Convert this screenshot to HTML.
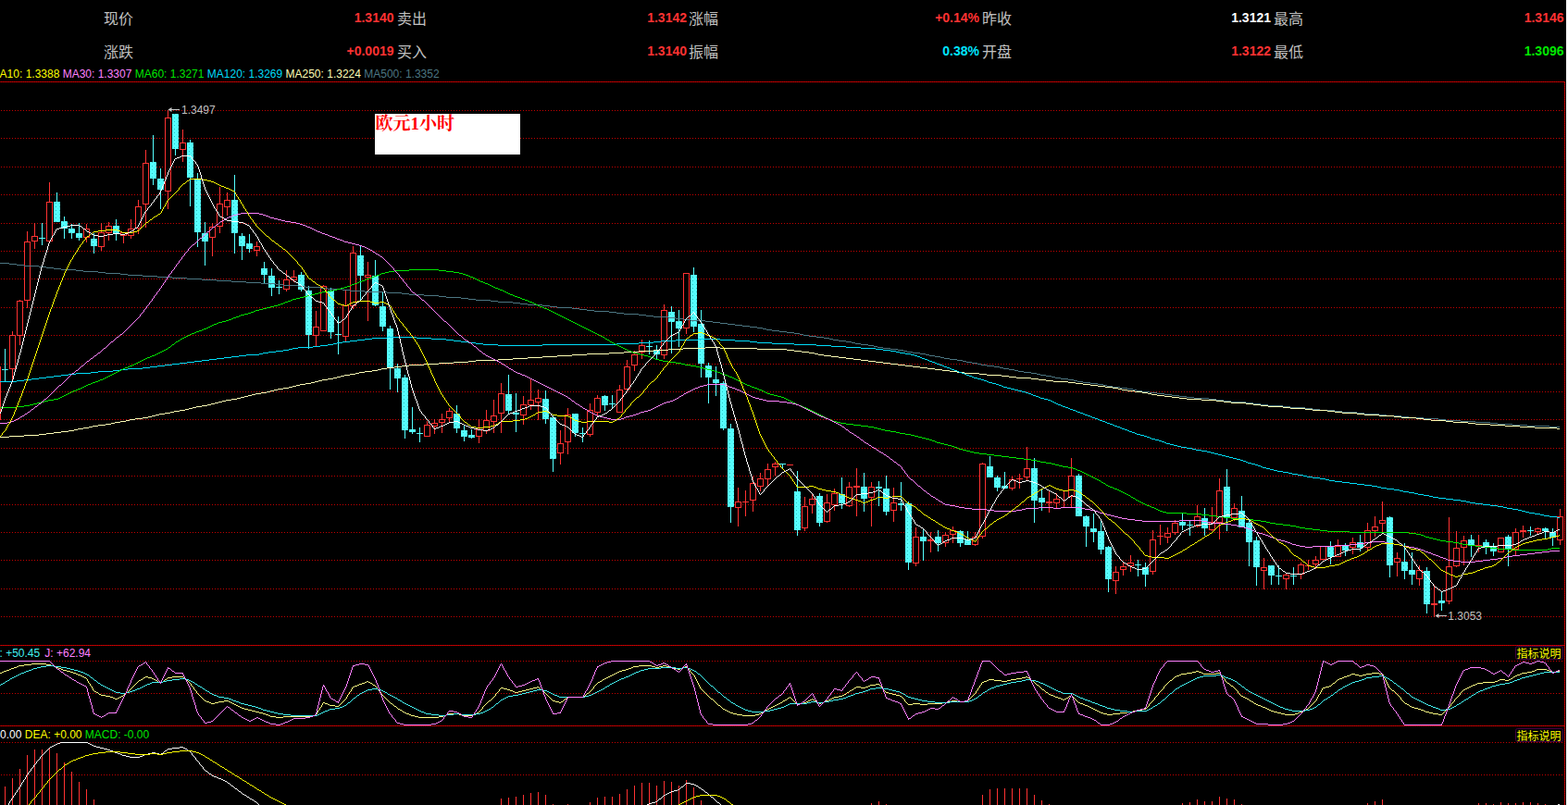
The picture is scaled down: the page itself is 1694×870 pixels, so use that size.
<!DOCTYPE html>
<html lang="zh"><head><meta charset="utf-8"><title>EURUSD 1H candlestick chart</title>
<style>html,body{margin:0;padding:0;background:#000}body{width:1694px;height:870px;font-family:"Liberation Sans",sans-serif}svg{display:block}text{font-family:"Liberation Sans",sans-serif}</style>
</head><body>
<svg width="1694" height="870" viewBox="0 0 1694 870">
<rect width="1694" height="870" fill="#000"/>
<g shape-rendering="crispEdges" fill="none" stroke-width="1">
<path d="M1 119.5H1690" stroke="#c40000" stroke-dasharray="1 2"/>
<path d="M1 149.5H1690" stroke="#c40000" stroke-dasharray="1 2"/>
<path d="M1 180.5H1690" stroke="#c40000" stroke-dasharray="1 2"/>
<path d="M1 210.5H1690" stroke="#c40000" stroke-dasharray="1 2"/>
<path d="M1 241.5H1690" stroke="#c40000" stroke-dasharray="1 2"/>
<path d="M1 271.5H1690" stroke="#c40000" stroke-dasharray="1 2"/>
<path d="M1 301.5H1690" stroke="#c40000" stroke-dasharray="1 2"/>
<path d="M1 332.5H1690" stroke="#c40000" stroke-dasharray="1 2"/>
<path d="M1 362.5H1690" stroke="#c40000" stroke-dasharray="1 2"/>
<path d="M1 393.5H1690" stroke="#c40000" stroke-dasharray="1 2"/>
<path d="M1 423.5H1690" stroke="#c40000" stroke-dasharray="1 2"/>
<path d="M1 453.5H1690" stroke="#c40000" stroke-dasharray="1 2"/>
<path d="M1 484.5H1690" stroke="#c40000" stroke-dasharray="1 2"/>
<path d="M1 514.5H1690" stroke="#c40000" stroke-dasharray="1 2"/>
<path d="M1 545.5H1690" stroke="#c40000" stroke-dasharray="1 2"/>
<path d="M1 575.5H1690" stroke="#c40000" stroke-dasharray="1 2"/>
<path d="M1 605.5H1690" stroke="#c40000" stroke-dasharray="1 2"/>
<path d="M1 636.5H1690" stroke="#c40000" stroke-dasharray="1 2"/>
<path d="M1 666.5H1690" stroke="#c40000" stroke-dasharray="1 2"/>
<path d="M1 714.5H1690" stroke="#c40000" stroke-dasharray="1 2"/>
<path d="M1 749.5H1690" stroke="#c40000" stroke-dasharray="1 2"/>
<path d="M1 802.5H1690" stroke="#c40000" stroke-dasharray="1 2"/>
<path d="M1 837.5H1690" stroke="#c40000" stroke-dasharray="1 2"/>
<path d="M0 88.5H1691M0 697.5H1691M0 784.5H1691M1690.5 88V870" stroke="#9c0000"/>
<path d="M1 88.5H1691M1 697.5H1691M1 784.5H1691M1690.5 89V870" stroke="#d60000" stroke-dasharray="1 1"/>
</g>
<rect x="405" y="123" width="157" height="44" fill="#fff"/>
<defs><pattern id="dz" width="4" height="4" patternUnits="userSpaceOnUse"><rect width="4" height="4" fill="#56ffff"/><rect x="0" y="3" width="1" height="1" fill="#2cc0c0"/><rect x="2" y="1" width="1" height="1" fill="#48f4f4"/></pattern></defs>
<g shape-rendering="crispEdges" stroke-width="1">
<path d="M0.5 396V454" stroke="#ff3232" fill="none"/>
<path d="M13.5 358V362M13.5 399V412M21.5 324V325M21.5 363V373M29.5 250V261M29.5 325V333M37.5 241V255M37.5 261V269M53.5 197V218M93.5 242V247M93.5 257V262M109.5 241V251M109.5 267V271M117.5 240V244M117.5 252V260M133.5 255V263M141.5 237V247M141.5 255V258M149.5 216V223M149.5 247V253M157.5 162V176M157.5 221V246M181.5 119V127M181.5 207V226M197.5 140V154M197.5 162V175M229.5 241V245M229.5 257V277M237.5 202V220M237.5 245V252M245.5 208V216M245.5 224V233M277.5 261V266M277.5 271V277M309.5 292V302M309.5 313V315M317.5 292V299M317.5 303V305M341.5 336V353M341.5 363V374M349.5 308V309M373.5 314V330M373.5 364V370M381.5 266V273M381.5 331V334M397.5 283V297M397.5 300V347M461.5 455V459M469.5 453V457M469.5 461V469M477.5 447V453M477.5 457V468M485.5 441V444M485.5 452V457M517.5 453V464M517.5 472V479M525.5 443V454M525.5 466V469M533.5 432V449M533.5 456V468M541.5 414V425M541.5 447V468M565.5 428V437M565.5 449V459M573.5 410V432M573.5 438V443M581.5 421V430M581.5 435V454M605.5 465V479M605.5 490V502M613.5 441V448M613.5 478V491M637.5 436V443M637.5 470V472M645.5 427V430M645.5 446V451M669.5 416V421M677.5 389V396M677.5 421V424M685.5 379V383M685.5 395V401M693.5 367V373M693.5 381V388M717.5 329V335M717.5 384V388M741.5 355V361M797.5 527V542M797.5 549V569M805.5 530V542M805.5 543V558M813.5 515V522M813.5 541V553M821.5 511V517M821.5 526V531M829.5 501V507M829.5 518V526M837.5 499V501M837.5 505V514M869.5 537V547M869.5 571V574M877.5 534V539M877.5 546V555M893.5 534V543M893.5 564V565M901.5 528V533M901.5 546V552M917.5 521V526M917.5 547V548M925.5 506V525M925.5 527V558M941.5 521V526M941.5 538V569M965.5 527V543M965.5 552V564M989.5 570V580M989.5 609V612M1005.5 575V583M1005.5 585V597M1021.5 575V578M1021.5 587V591M1029.5 569V573M1029.5 578V587M1053.5 575V580M1053.5 589V590M1061.5 500V501M1061.5 580V582M1093.5 515V518M1093.5 528V530M1101.5 512V517M1101.5 518V528M1109.5 483V506M1109.5 516V520M1133.5 531V542M1133.5 544V554M1141.5 533V539M1141.5 544V549M1149.5 531V548M1157.5 495V514M1157.5 537V548M1205.5 612V618M1205.5 628V642M1213.5 608V612M1213.5 616V622M1221.5 600V608M1221.5 612V618M1245.5 573V583M1245.5 618V621M1253.5 567V579M1253.5 580V589M1261.5 570V576M1261.5 581V587M1269.5 562V565M1269.5 576V578M1293.5 546V558M1293.5 569V570M1309.5 548V564M1309.5 573V574M1317.5 517V530M1317.5 565V583M1333.5 544V549M1333.5 560V563M1365.5 603V613M1365.5 617V637M1389.5 619V621M1389.5 626V637M1405.5 608V610M1405.5 621V626M1413.5 605V611M1413.5 612V616M1421.5 601V605M1421.5 610V615M1445.5 583V590M1461.5 581V586M1461.5 592V599M1477.5 565V573M1477.5 592V595M1485.5 558V569M1485.5 574V580M1493.5 542V562M1493.5 566V576M1509.5 597V603M1509.5 608V623M1533.5 611V616M1533.5 626V633M1549.5 632V652M1549.5 654V667M1565.5 559V612M1565.5 650V653M1573.5 574V592M1573.5 612V613M1581.5 579V584M1581.5 592V611M1597.5 578V589M1597.5 590V597M1637.5 571V575M1637.5 594V601M1645.5 568V573M1645.5 575V581M1661.5 570V571M1661.5 575V578M1685.5 550V558M1685.5 584V589" stroke="#ff3232" fill="none"/>
<path d="M10.5 362.5h6v36h-6zM18.5 325.5h6v37h-6zM26.5 261.5h6v63h-6zM34.5 255.5h6v5h-6zM50.5 218.5h6v42h-6zM90.5 247.5h6v9h-6zM106.5 251.5h6v15h-6zM114.5 244.5h6v7h-6zM130.5 251.5h6v3h-6zM138.5 247.5h6v7h-6zM146.5 223.5h6v23h-6zM154.5 176.5h6v44h-6zM178.5 127.5h6v79h-6zM194.5 154.5h6v7h-6zM226.5 245.5h6v11h-6zM234.5 220.5h6v24h-6zM242.5 216.5h6v7h-6zM274.5 266.5h6v4h-6zM306.5 302.5h6v10h-6zM314.5 299.5h6v3h-6zM338.5 353.5h6v9h-6zM346.5 309.5h6v48h-6zM370.5 330.5h6v33h-6zM378.5 273.5h6v57h-6zM394.5 297.5h6v2h-6zM458.5 459.5h6v12h-6zM466.5 457.5h6v3h-6zM474.5 453.5h6v3h-6zM482.5 444.5h6v7h-6zM514.5 464.5h6v7h-6zM522.5 454.5h6v11h-6zM530.5 449.5h6v6h-6zM538.5 425.5h6v21h-6zM562.5 437.5h6v11h-6zM570.5 432.5h6v5h-6zM578.5 430.5h6v4h-6zM602.5 479.5h6v10h-6zM610.5 448.5h6v29h-6zM634.5 443.5h6v26h-6zM642.5 430.5h6v15h-6zM666.5 421.5h6v24h-6zM674.5 396.5h6v24h-6zM682.5 383.5h6v11h-6zM690.5 373.5h6v7h-6zM714.5 335.5h6v48h-6zM738.5 295.5h6v59h-6zM794.5 542.5h6v6h-6zM802 542.5h7M810.5 522.5h6v18h-6zM818.5 517.5h6v8h-6zM826.5 507.5h6v10h-6zM834.5 501.5h6v3h-6zM850 502.5h7M866.5 547.5h6v23h-6zM874.5 539.5h6v6h-6zM890.5 543.5h6v20h-6zM898.5 533.5h6v12h-6zM914.5 526.5h6v20h-6zM922 525.5h7M922 526.5h7M938.5 526.5h6v11h-6zM962.5 543.5h6v8h-6zM986.5 580.5h6v28h-6zM1002 583.5h7M1002 584.5h7M1018.5 578.5h6v8h-6zM1026.5 573.5h6v4h-6zM1050.5 580.5h6v8h-6zM1058.5 501.5h6v78h-6zM1090.5 518.5h6v9h-6zM1098 517.5h7M1106.5 506.5h6v9h-6zM1130 542.5h7M1130 543.5h7M1138.5 539.5h6v4h-6zM1154.5 514.5h6v22h-6zM1202.5 618.5h6v9h-6zM1210.5 612.5h6v3h-6zM1218.5 608.5h6v3h-6zM1242.5 583.5h6v34h-6zM1250 579.5h7M1258.5 576.5h6v4h-6zM1266.5 565.5h6v10h-6zM1290.5 558.5h6v10h-6zM1306.5 564.5h6v8h-6zM1314.5 530.5h6v34h-6zM1330.5 549.5h6v10h-6zM1362.5 613.5h6v3h-6zM1386.5 621.5h6v4h-6zM1402.5 610.5h6v10h-6zM1410 611.5h7M1418.5 605.5h6v4h-6zM1426.5 590.5h6v14h-6zM1442.5 590.5h6v11h-6zM1458.5 586.5h6v5h-6zM1474.5 573.5h6v18h-6zM1482.5 569.5h6v4h-6zM1490.5 562.5h6v3h-6zM1506.5 603.5h6v4h-6zM1530.5 616.5h6v9h-6zM1546 652.5h7M1546 653.5h7M1562.5 612.5h6v37h-6zM1570.5 592.5h6v19h-6zM1578.5 584.5h6v7h-6zM1594 589.5h7M1618.5 581.5h6v15h-6zM1634.5 575.5h6v18h-6zM1642 573.5h7M1642 574.5h7M1658.5 571.5h6v3h-6zM1682.5 558.5h6v25h-6z" stroke="#ff3232" fill="#000"/>
<path d="M5.5 377V413M45.5 241V265M61.5 208V240M69.5 234V258M77.5 242V258M85.5 241V260M101.5 252V274M125.5 237V260M165.5 146V200M173.5 182V226M189.5 123V168M205.5 151V223M213.5 187V267M221.5 240V287M253.5 189V274M261.5 252V281M269.5 253V273M285.5 283V306M293.5 290V320M301.5 303V318M325.5 294V315M333.5 309V377M357.5 311V366M365.5 342V383M389.5 266V324M405.5 281V331M413.5 315V358M421.5 352V421M429.5 393V424M437.5 405V474M445.5 440V469M453.5 462V478M493.5 438V468M501.5 459V477M509.5 464V474M549.5 405V447M557.5 425V467M589.5 422V458M597.5 448V510M621.5 447V472M629.5 462V478M653.5 427V444M661.5 427V442M701.5 368V383M709.5 373V388M725.5 331V382M733.5 335V375M749.5 289V359M757.5 335V408M765.5 392V436M773.5 396V428M781.5 412V465M789.5 458V565M845.5 501V507M861.5 509V579M885.5 533V569M909.5 516V550M933.5 511V553M949.5 520V547M957.5 514V557M973.5 521V552M981.5 542V616M997.5 572V606M1013.5 573V596M1037.5 573V591M1045.5 574V589M1069.5 493V516M1077.5 514V531M1085.5 510V528M1117.5 495V565M1125.5 528V552M1165.5 512V558M1173.5 557V591M1181.5 555V586M1189.5 563V599M1197.5 590V640M1229.5 605V623M1237.5 608V634M1277.5 555V573M1285.5 563V579M1301.5 549V579M1325.5 507V574M1341.5 536V570M1349.5 562V612M1357.5 580V633M1373.5 611V632M1381.5 611V632M1397.5 613V632M1437.5 585V610M1453.5 587V601M1469.5 578V596M1501.5 558V624M1517.5 587V626M1525.5 597V632M1541.5 613V663M1557.5 640V660M1589.5 578V602M1605.5 583V599M1613.5 587V601M1629.5 578V612M1653.5 569V579M1669.5 570V582M1677.5 571V590" stroke="#54ffff" fill="none"/>
<path d="M2 399h7v1h-7zM42 257h7v1h-7zM58 218h7v22h-7zM66 239h7v8h-7zM74 247h7v5h-7zM82 252h7v5h-7zM98 258h7v8h-7zM122 244h7v8h-7zM162 175h7v18h-7zM170 193h7v12h-7zM186 123h7v38h-7zM202 154h7v38h-7zM210 193h7v58h-7zM218 252h7v9h-7zM250 216h7v36h-7zM258 255h7v11h-7zM266 263h7v6h-7zM282 290h7v7h-7zM290 298h7v13h-7zM298 310h7v1h-7zM322 297h7v16h-7zM330 314h7v48h-7zM354 314h7v45h-7zM362 361h7v1h-7zM386 276h7v22h-7zM402 298h7v32h-7zM410 331h7v22h-7zM418 355h7v43h-7zM426 398h7v11h-7zM434 408h7v57h-7zM442 464h7v3h-7zM450 468h7v1h-7zM490 447h7v16h-7zM498 465h7v7h-7zM506 470h7v3h-7zM546 426h7v18h-7zM554 446h7v2h-7zM586 431h7v22h-7zM594 451h7v45h-7zM618 447h7v21h-7zM626 468h7v1h-7zM650 428h7v10h-7zM658 436h7v1h-7zM698 374h7v1h-7zM706 378h7v5h-7zM722 337h7v11h-7zM730 347h7v8h-7zM746 297h7v56h-7zM754 350h7v43h-7zM762 395h7v13h-7zM770 410h7v4h-7zM778 414h7v49h-7zM786 463h7v85h-7zM842 501h7v1h-7zM858 531h7v42h-7zM882 536h7v29h-7zM906 534h7v10h-7zM930 526h7v13h-7zM946 526h7v2h-7zM954 528h7v25h-7zM970 544h7v2h-7zM978 544h7v64h-7zM994 580h7v5h-7zM1010 580h7v7h-7zM1034 574h7v13h-7zM1042 583h7v6h-7zM1066 504h7v12h-7zM1074 516h7v11h-7zM1082 525h7v3h-7zM1114 506h7v35h-7zM1122 538h7v5h-7zM1162 514h7v44h-7zM1170 558h7v11h-7zM1178 571h7v4h-7zM1186 574h7v20h-7zM1194 591h7v35h-7zM1226 610h7v1h-7zM1234 613h7v8h-7zM1274 564h7v4h-7zM1282 567h7v1h-7zM1298 560h7v11h-7zM1322 526h7v33h-7zM1338 552h7v18h-7zM1346 565h7v21h-7zM1354 584h7v29h-7zM1370 611h7v11h-7zM1378 622h7v1h-7zM1394 622h7v1h-7zM1434 591h7v11h-7zM1450 590h7v5h-7zM1466 586h7v6h-7zM1498 559h7v52h-7zM1514 607h7v10h-7zM1522 616h7v5h-7zM1538 617h7v36h-7zM1554 649h7v3h-7zM1586 583h7v6h-7zM1602 586h7v6h-7zM1610 591h7v5h-7zM1626 580h7v14h-7zM1650 573h7v1h-7zM1666 571h7v3h-7zM1674 575h7v6h-7z" fill="url(#dz)" stroke="none"/>
</g>
<g shape-rendering="crispEdges" fill="none" stroke-width="1">
<path d="M0 284.5h10m0 1h8m0 1h8m0 1h16m0 1h8m0 1h8m0 1h8m0 1h16m0 1h8m0 1h16m0 1h8m0 1h16m0 1h8m0 1h16m0 1h16m0 1h16m0 1h16m0 1h16m0 1h16m0 1h16m0 1h16m0 1h16m0 1h16m0 1h8m0 1h16m0 1h8m0 1h16m0 1h8m0 1h16m0 1h8m0 1h16m0 1h24m0 1h16m0 1h8m0 1h16m0 1h16m0 1h8m0 1h16m0 1h8m0 1h8m0 1h16m0 1h8m0 1h16m0 1h8m0 1h8m0 1h16m0 1h8m0 1h8m0 1h16m0 1h8m0 1h8m0 1h8m0 1h16m0 1h8m0 1h8m0 1h16m0 1h8m0 1h8m0 1h16m0 1h8m0 1h8m0 1h8m0 1h16m0 1h8m0 1h8m0 1h8m0 1h8m0 1h8m0 1h8m0 1h8m0 1h6m0 1h4m0 1h6m0 1h8m0 1h8m0 1h8m0 1h6m0 1h4m0 1h6m0 1h8m0 1h8m0 1h6m0 1h4m0 1h6m0 1h8m0 1h6m0 1h4m0 1h6m0 1h8m0 1h6m0 1h4m0 1h6m0 1h8m0 1h8m0 1h6m0 1h4m0 1h6m0 1h8m0 1h6m0 1h4m0 1h6m0 1h6m0 1h4m0 1h6m0 1h8m0 1h6m0 1h4m0 1h6m0 1h6m0 1h4m0 1h6m0 1h8m0 1h6m0 1h4m0 1h6m0 1h6m0 1h4m0 1h6m0 1h8m0 1h6m0 1h4m0 1h6m0 1h6m0 1h4m0 1h6m0 1h8m0 1h6m0 1h4m0 1h6m0 1h8m0 1h8m0 1h6m0 1h4m0 1h6m0 1h8m0 1h8m0 1h6m0 1h4m0 1h6m0 1h8m0 1h8m0 1h8m0 1h8m0 1h8m0 1h8m0 1h8m0 1h16m0 1h8m0 1h8m0 1h8m0 1h16m0 1h8m0 1h8m0 1h8m0 1h16m0 1h8m0 1h16m0 1h8m0 1h8m0 1h16m0 1h8m0 1h16m0 1h8m0 1h16m0 1h8m0 1h16m0 1h8m0 1h16m0 1h16m0 1h8m0 1h16m0 1h16m0 1h16m0 1h8m0 1h16m0 1h16m0 1h24m0 1h11" stroke="#4c7682" />
<path d="M0 472.5h10m0 -1h16m0 -1h16m0 -1h8m0 -1h8m0 -1h8m0 -1h8m0 -1h6m0 -1h4m0 -1h6m0 -1h6m0 -1h4m0 -1h6m0 -1h8m0 -1h6m0 -1h4m0 -1h6m0 -1h6m0 -1h4m0 -1h6m0 -1h8m0 -1h6m0 -1h4m0 -1h4m0 -1h4m0 -1h6m0 -1h6m0 -1h4m0 -1h6m0 -1h6m0 -1h4m0 -1h4m0 -1h4m0 -1h6m0 -1h6m0 -1h4m0 -1h4m0 -1h4m0 -1h4m0 -1h4m0 -1h6m0 -1h6m0 -1h4m0 -1h4m0 -1h4m0 -1h4m0 -1h4m0 -1h6m0 -1h6m0 -1h4m0 -1h4m0 -1h4m0 -1h6m0 -1h6m0 -1h4m0 -1h4m0 -1h4m0 -1h6m0 -1h6m0 -1h4m0 -1h4m0 -1h4m0 -1h6m0 -1h6m0 -1h4m0 -1h4m0 -1h4m0 -1h6m0 -1h6m0 -1h4m0 -1h6m0 -1h8m0 -1h6m0 -1h4m0 -1h6m0 -1h8m0 -1h8m0 -1h8m0 -1h16m0 -1h16m0 -1h16m0 -1h16m0 -1h8m0 -1h24m0 -1h16m0 -1h16m0 -1h16m0 -1h16m0 -1h16m0 -1h16m0 -1h24m0 -1h16m0 -1h16m0 -1h16m0 -1h16m0 -1h16m0 -1h24m0 -1h16m0 1h40m0 1h32m0 1h8m0 1h8m0 1h8m0 1h6m0 1h4m0 1h6m0 1h8m0 1h8m0 1h8m0 1h8m0 1h8m0 1h8m0 1h8m0 1h8m0 1h8m0 1h8m0 1h8m0 1h8m0 1h8m0 1h8m0 1h8m0 1h8m0 1h8m0 1h8m0 1h8m0 1h16m0 1h8m0 1h16m0 1h8m0 1h8m0 1h16m0 1h8m0 1h8m0 1h8m0 1h16m0 1h8m0 1h8m0 1h8m0 1h8m0 1h8m0 1h8m0 1h6m0 1h4m0 1h6m0 1h8m0 1h8m0 1h6m0 1h4m0 1h6m0 1h8m0 1h8m0 1h8m0 1h8m0 1h16m0 1h16m0 1h8m0 1h8m0 1h16m0 1h8m0 1h8m0 1h8m0 1h16m0 1h8m0 1h16m0 1h8m0 1h16m0 1h8m0 1h8m0 1h16m0 1h8m0 1h16m0 1h16m0 1h8m0 1h16m0 1h8m0 1h8m0 1h16m0 1h8m0 1h16m0 1h8m0 1h16m0 1h16m0 1h16m0 1h16m0 1h24m0 1h3" stroke="#ffffb4" />
<path d="M0 412.5h18m0 -1h8m0 -1h8m0 -1h8m0 -1h8m0 -1h8m0 -1h8m0 -1h8m0 -1h8m0 -1h16m0 -1h8m0 -1h16m0 -1h8m0 -1h8m0 -1h16m0 -1h8m0 -1h8m0 -1h8m0 -1h8m0 -1h8m0 -1h8m0 -1h8m0 -1h8m0 -1h8m0 -1h8m0 -1h8m0 -1h8m0 -1h8m0 -1h8m0 -1h14m0 -1h4m0 -1h6m0 -1h8m0 -1h8m0 -1h6m0 -1h4m0 -1h6m0 -1h16m0 -1h8m0 -1h8m0 -1h6m0 -1h4m0 -1h6m0 -1h8m0 -1h8m0 -1h8m0 -1h8m0 -1h16m0 -1h32m0 1h16m0 1h16m0 1h8m0 1h8m0 1h8m0 1h8m0 1h8m0 1h16m0 1h48m0 -1h80m0 -1h24m0 -1h16m0 -1h8m0 -1h16m0 -1h24m0 -1h24m0 1h16m0 1h16m0 1h8m0 1h16m0 1h24m0 1h24m0 1h16m0 1h16m0 1h16m0 1h16m0 1h8m0 1h8m0 1h6m0 1h4m0 1h6m0 1h6m0 1h4m0 1h3m0 1h3m0 1h2m0 1h3m0 1h3m0 1h2m0 1h3m0 1h3m0 1h2m0 1h3m0 1h3m0 1h2m0 1h3m0 1h3m0 1h2m0 1h3m0 1h3m0 1h2m0 1h3m0 1h3m0 1h2m0 1h3m0 1h3m0 1h2m0 1h4m0 1h4m0 1h3m0 1h3m0 1h2m0 1h4m0 1h4m0 1h3m0 1h3m0 1h2m0 1h4m0 1h4m0 1h4m0 1h4m0 1h4m0 1h4m0 1h3m0 1h3m0 1h2m0 1h3m0 1h3m0 1h2m0 1h4m0 1h4m0 1h3m0 1h2m0 1h2m0 1h2m0 1h2m0 1h3m0 1h2m0 1h3m0 1h3m0 1h2m0 1h3m0 1h3m0 1h2m0 1h3m0 1h3m0 1h2m0 1h3m0 1h3m0 1h2m0 1h3m0 1h3m0 1h2m0 1h3m0 1h3m0 1h2m0 1h3m0 1h3m0 1h2m0 1h3m0 1h3m0 1h2m0 1h3m0 1h3m0 1h2m0 1h3m0 1h3m0 1h2m0 1h4m0 1h4m0 1h3m0 1h3m0 1h2m0 1h4m0 1h4m0 1h3m0 1h3m0 1h2m0 1h4m0 1h4m0 1h4m0 1h4m0 1h6m0 1h6m0 1h4m0 1h6m0 1h6m0 1h4m0 1h4m0 1h4m0 1h4m0 1h4m0 1h4m0 1h4m0 1h4m0 1h4m0 1h3m0 1h3m0 1h2m0 1h4m0 1h4m0 1h3m0 1h3m0 1h2m0 1h4m0 1h4m0 1h4m0 1h4m0 1h6m0 1h6m0 1h4m0 1h6m0 1h6m0 1h4m0 1h6m0 1h8m0 1h6m0 1h4m0 1h6m0 1h8m0 1h8m0 1h8m0 1h8m0 1h8m0 1h6m0 1h4m0 1h6m0 1h8m0 1h6m0 1h4m0 1h6m0 1h6m0 1h4m0 1h6m0 1h6m0 1h4m0 1h6m0 1h8m0 1h8m0 1h8m0 1h6m0 1h4m0 1h6m0 1h8m0 1h8m0 1h8m0 1h6m0 1h4m0 1h6m0 1h6m0 1h4m0 1h4m0 1h4m0 1h6m0 1h6m0 1h4m0 1h6m0 1h8m0 1h3" stroke="#00dcfa" />
<path d="M0 440.5h18m0 -1h8m0 -1h6m0 -1h4m0 -1h4m0 -1h4m0 -1h4m0 -1h4m0 -1h6m0 -1h5m0 -1h2m0 -1h2m0 -1h2m0 -1h2m0 -1h2m0 -1h2m0 -1h2m0 -1h2m0 -1h3m0 -1h2m0 -1h3m0 -1h2m0 -1h2m0 -1h2m0 -1h2m0 -1h3m0 -1h2m0 -1h3m0 -1h3m0 -1h2m0 -1h3m0 -1h2m0 -1h2m0 -1h2m0 -1h2m0 -1h2m0 -1h2m0 -1h2m0 -1h2m0 -1h2m0 -1h2m0 -1h2m0 -1h2m0 -1h3m0 -1h2m0 -1h3m0 -1h2m0 -1h2m0 -1h2m0 -1h2m0 -1h2m0 -1h2m0 -1h2m0 -1h2m0 -1h3m0 -1h2m0 -1h3m0 -1h2m0 -1h2m0 -1h2m0 -1h2m0 -1h2m0 -1h2m0 -1h2m0 -1h1m0 -1h2m0 -1h1m0 -1h1m0 -1h2m0 -1h1m0 -1h1m0 -1h2m0 -1h2m0 -1h1m0 -1h2m0 -1h2m0 -1h2m0 -1h2m0 -1h2m0 -1h2m0 -1h3m0 -1h2m0 -1h3m0 -1h3m0 -1h2m0 -1h3m0 -1h2m0 -1h2m0 -1h2m0 -1h2m0 -1h3m0 -1h2m0 -1h4m0 -1h4m0 -1h3m0 -1h3m0 -1h2m0 -1h3m0 -1h3m0 -1h2m0 -1h4m0 -1h4m0 -1h3m0 -1h3m0 -1h2m0 -1h4m0 -1h4m0 -1h4m0 -1h4m0 -1h4m0 -1h4m0 -1h3m0 -1h3m0 -1h2m0 -1h3m0 -1h3m0 -1h2m0 -1h4m0 -1h4m0 -1h4m0 -1h4m0 -1h4m0 -1h4m0 -1h4m0 -1h4m0 -1h6m0 -1h6m0 -1h4m0 -1h4m0 -1h4m0 -1h3m0 -1h3m0 -1h2m0 -1h3m0 -1h3m0 -1h2m0 -1h3m0 -1h3m0 -1h2m0 -1h3m0 -1h3m0 -1h2m0 -1h3m0 -1h3m0 -1h2m0 -1h4m0 -1h4m0 -1h6m0 -1h16m0 -1h32m0 1h8m0 1h8m0 1h6m0 1h4m0 1h3m0 1h3m0 1h2m0 1h3m0 1h2m0 1h2m0 1h2m0 1h2m0 1h3m0 1h2m0 1h3m0 1h2m0 1h2m0 1h2m0 1h2m0 1h3m0 1h2m0 1h3m0 1h2m0 1h2m0 1h2m0 1h2m0 1h3m0 1h2m0 1h3m0 1h3m0 1h2m0 1h3m0 1h3m0 1h2m0 1h3m0 1h2m0 1h2m0 1h2m0 1h2m0 1h3m0 1h2m0 1h3m0 1h2m0 1h2m0 1h2m0 1h2m0 1h2m0 1h2m0 1h2m0 1h2m0 1h2m0 1h2m0 1h2m0 1h2m0 1h2m0 1h2m0 1h2m0 1h2m0 1h2m0 1h2m0 1h2m0 1h2m0 1h2m0 1h2m0 1h2m0 1h2m0 1h2m0 1h2m0 1h2m0 1h2m0 1h2m0 1h2m0 1h2m0 1h1m0 1h2m0 1h2m0 1h1m0 1h2m0 1h2m0 1h2m0 1h2m0 1h2m0 1h2m0 1h2m0 1h2m0 1h2m0 1h2m0 1h3m0 1h2m0 1h4m0 1h4m0 1h4m0 1h4m0 1h3m0 1h3m0 1h2m0 1h4m0 1h4m0 1h6m0 1h8m0 1h6m0 1h4m0 1h6m0 1h6m0 1h4m0 1h4m0 1h4m0 1h4m0 1h4m0 1h3m0 1h3m0 1h2m0 1h3m0 1h3m0 1h2m0 1h3m0 1h2m0 1h2m0 1h2m0 1h2m0 1h2m0 1h2m0 1h2m0 1h2m0 1h3m0 1h2m0 1h3m0 1h3m0 1h2m0 1h3m0 1h2m0 1h2m0 1h2m0 1h3m0 1h4m0 1h4m0 1h4m0 1h3m0 1h2m0 1h2m0 1h2m0 1h2m0 1h2m0 1h2m0 1h2m0 1h2m0 1h3m0 1h2m0 1h3m0 1h2m0 1h2m0 1h2m0 1h2m0 1h2m0 1h2m0 1h2m0 1h2m0 1h2m0 1h2m0 1h2m0 1h2m0 1h3m0 1h2m0 1h4m0 1h4m0 1h6m0 1h8m0 1h8m0 1h8m0 1h6m0 1h4m0 1h4m0 1h4m0 1h6m0 1h6m0 1h4m0 1h6m0 1h6m0 1h4m0 1h4m0 1h4m0 1h4m0 1h4m0 1h3m0 1h3m0 1h2m0 1h4m0 1h4m0 1h4m0 1h4m0 1h3m0 1h3m0 1h2m0 1h4m0 1h4m0 1h4m0 1h4m0 1h6m0 1h8m0 1h8m0 1h8m0 1h8m0 1h8m0 1h8m0 1h8m0 1h6m0 1h4m0 1h6m0 1h6m0 1h4m0 1h4m0 1h4m0 1h6m0 1h5m0 1h3m0 1h2m0 1h3m0 1h2m0 1h2m0 1h2m0 1h2m0 1h2m0 1h2m0 1h2m0 1h2m0 1h2m0 1h2m0 1h2m0 1h1m0 1h2m0 1h2m0 1h1m0 1h2m0 1h2m0 1h3m0 1h2m0 1h3m0 1h2m0 1h2m0 1h2m0 1h2m0 1h2m0 1h2m0 1h2m0 1h1m0 1h2m0 1h2m0 1h1m0 1h2m0 1h2m0 1h2m0 1h2m0 1h2m0 1h2m0 1h3m0 1h2m0 1h3m0 1h2m0 1h2m0 1h2m0 1h3m0 1h4m0 1h22m0 1h16m0 1h8m0 1h8m0 1h8m0 1h8m0 1h16m0 1h8m0 1h8m0 1h6m0 1h4m0 1h6m0 1h8m0 1h8m0 1h6m0 1h4m0 1h6m0 1h8m0 1h8m0 1h8m0 1h24m0 1h64m0 1h8m0 1h5m0 1h3m0 1h2m0 1h4m0 1h4m0 1h4m0 1h4m0 1h6m0 1h8m0 1h6m0 1h4m0 1h6m0 1h8m0 1h8m0 1h8m0 1h8m0 1h16m0 1h38m0 -1h4m0 -1h9" stroke="#00e600" />
<path d="M0 457.5h8m0 -1h4m0 -1h3m0 -1h2m0 -1h2m0 -1h2m0 -1h1m0 -1h2m0 -1h2m0 -1h1m0 -1h2m0 -1h1m0 -1h2m0 -1h1m0 -1h1m0 -1h2m0 -1h1m0 -1h1m0 -1h2m0 -1h1m0 -1h1m0 -1h2m0 -1h1m0 -1h1m0 -1h1m0 -1h1m0 -1h2m0 -1h1m0 -1h1m0 -1h1m0 -1h1m0 -1h1m0 -1h1m0 -1h1m0 -1h1m0 -1h1m0 -1h1m0 -1h1m0 -1h1m0 -1h1m0 -1h1m0 -1h2m0 -1h1m0 -1h1m0 -1h1m0 -1h1m0 -1h1m0 -1h1m0 -1h1m0 -1h1m0 -1h1m0 -1h1m0 -1h1m0 -1h1m0 -1h2m0 -1h1m0 -1h1m0 -1h2m0 -1h1m0 -1h1m0 -1h1m0 -1h1m0 -1h2m0 -1h1m0 -1h1m0 -1h1m0 -1h1m0 -1h2m0 -1h1m0 -1h1m0 -1h2m0 -1h1m0 -1h1m0 -1h2m0 -1h1m0 -1h1m0 -1h2m0 -1h1m0 -1h1m0 -1h1m0 -1h1m0 -1h2m0 -1h1m0 -1h1m0 -1h1m0 -1h1m0 -1h1m0 -1h1m0 -1h2m0 -1h1m0 -1h1m0 -1h1m0 -1h1m0 -1h2m0 -1h1m0 -1h1m0 -1h2m0 -1h1m0 -1h1m0 -1h1m0 -1h1m0 -1h1m0 -1h1m0 -1h1m0 -1h1m0 -1h1m0 -1h1m0 -1h1m0 -1h1m0 -1h1m0 -1h1m0 -1h1m0 -1h1m0 -1h1m0 -1h1m0 -1h1m0 -2h1m-1 1h1m0 -2h1m0 -1h1m0 -1h1m0 -2h1m-1 1h1m0 -2h1m0 -1h1m0 -2h1m-1 1h1m0 -2h1m0 -1h1m0 -2h1m-1 1h1m0 -2h1m0 -1h1m0 -2h1m-1 1h1m0 -2h1m0 -2h1m-1 1h1m0 -2h1m0 -1h1m0 -2h1m-1 1h1m0 -2h1m0 -1h1m0 -2h1m-1 1h1m0 -2h1m0 -2h1m-1 1h1m0 -2h1m0 -2h1m-1 1h1m0 -2h1m0 -2h1m-1 1h1m0 -2h1m0 -2h1m-1 1h1m0 -2h1m0 -2h1m-1 1h1m0 -2h1m0 -1h1m0 -2h1m-1 1h1m0 -2h1m0 -1h1m0 -2h1m-1 1h1m0 -2h1m0 -2h1m-1 1h1m0 -2h1m0 -1h1m0 -2h1m-1 1h1m0 -2h1m0 -1h1m0 -2h1m-1 1h1m0 -2h1m0 -1h1m0 -2h1m-1 1h1m0 -2h1m0 -1h1m0 -1h1m0 -2h1m-1 1h1m0 -2h1m0 -1h1m0 -1h1m0 -1h1m0 -1h2m0 -1h1m0 -1h1m0 -1h1m0 -1h1m0 -1h1m0 -1h1m0 -1h2m0 -1h1m0 -1h1m0 -1h1m0 -1h1m0 -1h1m0 -1h1m0 -1h2m0 -1h1m0 -1h1m0 -1h1m0 -1h1m0 -1h2m0 -1h1m0 -1h1m0 -1h2m0 -1h1m0 -1h1m0 -1h2m0 -1h2m0 -1h1m0 -1h2m0 -1h2m0 -1h3m0 -1h2m0 -1h4m0 -1h4m0 -1h20m0 1h4m0 1h3m0 1h3m0 1h2m0 1h4m0 1h4m0 1h4m0 1h4m0 1h6m0 1h6m0 1h4m0 1h3m0 1h3m0 1h2m0 1h3m0 1h2m0 1h2m0 1h2m0 1h2m0 1h3m0 1h2m0 1h3m0 1h3m0 1h2m0 1h3m0 1h3m0 1h2m0 1h3m0 1h3m0 1h2m0 1h4m0 1h4m0 1h4m0 1h4m0 1h3m0 1h3m0 1h2m0 1h2m0 1h2m0 1h2m0 1h1m0 1h2m0 1h1m0 1h2m0 1h2m0 1h1m0 1h2m0 1h1m0 1h1m0 1h1m0 1h1m0 1h1m0 1h1m0 1h1m0 1h1m0 1h1m0 1h1m0 1h1m0 1h1m0 1h1m-1 1h1m0 1h1m0 1h1m0 1h1m0 1h1m0 1h1m0 1h1m-1 1h1m0 1h1m0 1h1m0 1h1m0 1h1m-1 1h1m0 1h1m0 1h1m0 1h1m0 1h1m-1 1h1m0 1h1m0 1h1m0 1h1m0 1h1m-1 1h1m0 1h1m0 1h1m0 1h2m0 1h1m0 1h1m0 1h2m0 1h1m0 1h1m0 1h1m0 1h1m0 1h2m0 1h1m0 1h1m0 1h1m0 1h1m0 1h1m0 1h1m0 1h1m0 1h1m0 1h1m0 1h1m0 1h1m0 1h1m0 1h1m0 1h1m0 1h1m0 1h1m0 1h1m0 1h1m0 1h1m0 1h1m0 1h1m0 1h1m0 1h2m0 1h1m0 1h1m0 1h1m0 1h1m0 1h1m0 1h1m0 1h1m0 1h1m0 1h1m0 1h1m0 1h1m0 1h1m0 1h1m0 1h1m0 1h2m0 1h1m0 1h1m0 1h1m0 1h1m0 1h2m0 1h2m0 1h1m0 1h2m0 1h1m0 1h1m0 1h1m0 1h2m0 1h1m0 1h1m0 1h1m0 1h1m0 1h2m0 1h1m0 1h1m0 1h2m0 1h1m0 1h2m0 1h2m0 1h2m0 1h2m0 1h2m0 1h2m0 1h2m0 1h2m0 1h1m0 1h2m0 1h2m0 1h1m0 1h2m0 1h1m0 1h2m0 1h2m0 1h1m0 1h2m0 1h2m0 1h3m0 1h2m0 1h3m0 1h2m0 1h2m0 1h2m0 1h2m0 1h2m0 1h2m0 1h2m0 1h2m0 1h2m0 1h2m0 1h2m0 1h2m0 1h2m0 1h2m0 1h2m0 1h2m0 1h2m0 1h2m0 1h2m0 1h2m0 1h2m0 1h2m0 1h2m0 1h1m0 1h2m0 1h1m0 1h1m0 1h2m0 1h1m0 1h1m0 1h2m0 1h2m0 1h1m0 1h2m0 1h1m0 1h2m0 1h2m0 1h1m0 1h2m0 1h2m0 1h2m0 1h2m0 1h2m0 1h3m0 1h4m0 1h4m0 1h4m0 1h11m0 -1h3m0 -1h2m0 -1h4m0 -1h4m0 -1h3m0 -1h3m0 -1h2m0 -1h4m0 -1h4m0 -1h3m0 -1h2m0 -1h2m0 -1h2m0 -1h2m0 -1h2m0 -1h2m0 -1h2m0 -1h3m0 -1h4m0 -1h3m0 -1h2m0 -1h2m0 -1h2m0 -1h1m0 -1h2m0 -1h2m0 -1h1m0 -1h2m0 -1h2m0 -1h2m0 -1h2m0 -1h2m0 -1h2m0 -1h3m0 -1h2m0 -1h4m0 -1h4m0 -1h19m0 1h3m0 1h2m0 1h3m0 1h3m0 1h2m0 1h3m0 1h2m0 1h2m0 1h2m0 1h2m0 1h2m0 1h2m0 1h2m0 1h3m0 1h4m0 1h4m0 1h4m0 1h14m0 1h8m0 1h6m0 1h4m0 1h3m0 1h2m0 1h2m0 1h2m0 1h2m0 1h2m0 1h2m0 1h2m0 1h2m0 1h2m0 1h2m0 1h2m0 1h2m0 1h3m0 1h2m0 1h3m0 1h2m0 1h2m0 1h2m0 1h2m0 1h2m0 1h2m0 1h2m0 1h1m0 1h2m0 1h1m0 1h1m0 1h2m0 1h1m0 1h1m0 1h2m0 1h2m0 1h1m0 1h2m0 1h1m0 1h2m0 1h1m0 1h1m0 1h2m0 1h1m0 1h1m0 1h2m0 1h2m0 1h1m0 1h2m0 1h1m0 1h2m0 1h2m0 1h1m0 1h2m0 1h1m0 1h2m0 1h2m0 1h1m0 1h2m0 1h1m0 1h2m0 1h1m0 1h1m0 1h2m0 1h1m0 1h1m0 1h2m0 1h1m0 1h1m0 1h2m0 1h1m0 1h1m0 1h1m-1 1h1m0 1h1m0 1h1m0 1h1m-1 1h1m0 1h1m0 1h1m0 1h1m-1 1h1m0 1h1m0 1h1m0 1h1m0 1h2m0 1h1m0 1h1m0 1h1m0 1h1m0 1h1m0 1h1m0 1h2m0 1h1m0 1h1m0 1h1m0 1h1m0 1h2m0 1h1m0 1h1m0 1h2m0 1h1m0 1h1m0 1h2m0 1h2m0 1h1m0 1h2m0 1h1m0 1h2m0 1h2m0 1h1m0 1h2m0 1h5m0 1h6m0 1h4m0 1h6m0 1h8m0 1h16m0 1h8m0 1h24m0 -1h6m0 -1h4m0 -1h14m0 -1h16m0 1h8m0 -1h22m0 1h4m0 1h6m0 1h5m0 1h3m0 1h2m0 1h4m0 1h4m0 1h4m0 1h4m0 1h4m0 1h4m0 1h6m0 1h8m0 1h8m0 1h40m0 -1h24m0 1h6m0 1h4m0 1h14m0 1h8m0 1h6m0 1h4m0 1h4m0 1h4m0 1h3m0 1h2m0 1h2m0 1h2m0 1h3m0 1h4m0 1h3m0 1h3m0 1h2m0 1h3m0 1h3m0 1h2m0 1h4m0 1h4m0 1h3m0 1h3m0 1h2m0 1h4m0 1h4m0 1h6m0 1h8m0 -1h24m0 -1h16m0 -1h8m0 -1h8m0 -1h8m0 -1h14m0 1h4m0 1h6m0 1h6m0 1h4m0 1h6m0 1h6m0 1h4m0 1h3m0 1h3m0 1h2m0 1h3m0 1h3m0 1h2m0 1h3m0 1h3m0 1h2m0 1h3m0 1h3m0 1h2m0 1h6m0 1h8m0 1h16m0 -1h8m0 -1h8m0 -1h8m0 -1h6m0 -1h4m0 -1h6m0 -1h8m0 -1h8m0 -1h8m0 -1h8m0 -1h8m0 -1h11" stroke="#ff80ff" />
<path d="M0 471.5h1m0 -1h1m0 -2h1m-1 1h1m0 -2h1m0 -1h1m0 -1h1m0 -2h1m-1 1h1m0 -3h1m-1 1h1m0 -3h1m-1 1h1m0 -2h1m0 -2h1m-1 1h1m0 -3h1m-1 1h1m0 -3h1m-1 1h1m0 -3h1m-1 1h1m0 -3h1m-1 1h1m1 -6h1m-1 1h1m1 -6h1m-1 1h1m1 -6h1m-1 1h1m1 -6h1m-1 1h1m2 -9h1m-1 1h1m2 -9h1m-1 1h1m26 -81h1m-1 1h1m3 -12h1m-1 1h1m2 -9h1m-1 1h1m1 -6h1m-1 1h1m1 -6h1m-1 1h1m1 -6h1m-1 1h1m1 -6h1m-1 1h1m0 -3h1m-1 1h1m0 -3h1m-1 1h1m0 -3h1m-1 1h1m0 -3h1m-1 1h1m0 -3h1m-1 1h1m0 -3h1m-1 1h1m0 -2h1m0 -2h1m-1 1h1m0 -3h1m-1 1h1m0 -2h1m0 -2h1m-1 1h1m0 -2h1m0 -2h1m-1 1h1m0 -3h1m-1 1h1m0 -2h1m0 -2h1m-1 1h1m0 -2h1m0 -1h1m0 -2h1m-1 1h1m0 -2h1m0 -1h1m0 -2h1m-1 1h1m0 -2h1m0 -1h2m0 -1h1m0 -1h1m0 -1h2m0 -1h1m0 -1h5m0 -1h8m0 -1h13m0 1h3m0 1h2m0 1h12m0 -1h4m0 -1h2m0 -1h1m0 -1h1m0 -1h1m0 -1h1m0 -1h1m0 -1h1m0 -1h1m0 -1h1m0 -1h2m0 -1h1m0 -1h1m0 -1h2m0 -1h1m0 -1h1m0 -1h2m0 -1h2m0 -1h1m0 -1h2m0 -1h1m0 -2h1m-1 1h1m0 -3h1m-1 1h1m0 -3h1m-1 1h1m0 -2h1m0 -2h1m-1 1h1m0 -3h1m-1 1h1m0 -3h1m-1 1h1m0 -2h1m0 -1h1m0 -1h1m0 -1h1m0 -1h1m0 -1h1m0 -1h1m0 -1h1m0 -1h1m0 -1h1m0 -1h1m0 -1h1m0 -2h1m-1 1h1m0 -2h1m0 -1h1m0 -1h1m0 -1h1m0 -1h2m0 -1h1m0 -1h1m0 -1h2m0 -1h1m0 -1h13m0 1h6m0 1h4m0 1h3m0 1h2m0 1h2m0 1h2m0 1h2m0 1h3m0 1h2m0 1h3m0 1h2m0 1h2m0 1h2m0 1h1m0 1h1m-1 1h1m0 1h1m-1 1h1m0 1h1m0 1h1m-1 1h1m0 1h1m0 1h1m-1 1h1m0 1h1m-1 1h1m0 1h1m0 1h1m-1 1h1m0 1h1m-1 1h1m0 1h1m0 1h1m-1 1h1m0 1h1m0 1h1m-1 1h1m0 1h1m-1 1h1m0 1h1m0 1h1m-1 1h1m0 1h1m0 1h1m0 1h1m-1 1h1m0 1h1m0 1h1m0 1h1m-1 1h1m0 1h1m0 1h1m0 1h1m0 1h1m0 1h1m0 1h1m0 1h1m0 1h1m0 1h1m0 1h1m0 1h1m0 1h2m0 1h1m0 1h1m0 1h1m0 1h1m0 1h2m0 1h1m0 1h1m0 1h2m0 1h1m0 1h1m0 1h2m0 1h1m0 1h1m0 1h2m0 1h1m0 1h1m0 1h1m0 1h1m0 1h1m0 1h1m0 1h1m0 1h1m0 1h1m0 1h1m0 1h1m0 1h1m0 1h1m0 1h1m-1 1h1m0 1h1m0 1h1m0 1h1m0 1h1m0 1h1m-1 1h1m0 1h1m0 1h1m-1 1h1m0 1h1m0 1h1m-1 1h1m0 1h1m0 1h1m-1 1h1m0 1h1m0 1h2m0 1h1m0 1h1m0 1h2m0 1h1m0 1h1m0 1h2m0 1h2m0 1h1m0 1h2m0 1h1m0 1h1m0 1h1m-1 1h1m0 1h1m0 1h1m0 1h1m0 1h1m-1 1h1m0 1h1m0 1h1m0 1h1m0 1h1m0 1h2m0 1h1m0 1h1m0 1h1m0 1h3m0 1h4m0 1h3m0 -1h2m0 -1h2m0 -1h2m0 -1h5m0 -1h14m0 1h4m0 1h6m0 -1h5m0 1h2m0 1h2m0 1h2m0 1h1m0 1h1m-1 1h1m0 1h1m-1 1h1m0 1h1m0 1h1m-1 1h1m0 1h1m0 1h1m-1 1h1m0 1h1m-1 1h1m0 1h1m0 1h1m0 1h1m-1 1h1m0 1h1m0 1h1m0 1h1m0 1h1m-1 1h1m0 1h1m0 1h1m0 1h1m0 1h1m-1 1h1m0 1h1m0 1h1m0 1h1m0 1h1m-1 1h1m0 1h1m0 1h1m0 1h1m-1 1h1m0 1h1m0 1h1m-1 1h1m0 1h1m0 1h1m-1 1h1m0 1h1m0 1h1m-1 1h1m0 1h1m-1 1h1m0 1h1m-1 1h1m0 1h1m-1 1h1m0 1h1m-1 1h1m0 1h1m-1 1h1m0 1h1m-1 1h1m0 1h1m-1 1h1m0 1h1m-1 1h1m1 4h1m-1 1h1m0 1h1m-1 1h1m0 1h1m-1 1h1m1 4h1m-1 1h1m0 1h1m-1 1h1m0 1h1m-1 1h1m1 4h1m-1 1h1m0 1h1m-1 1h1m0 1h1m-1 1h1m0 1h1m-1 1h1m0 1h1m-1 1h1m0 1h1m-1 1h1m0 1h1m-1 1h1m0 1h1m0 1h1m-1 1h1m0 1h1m0 1h1m-1 1h1m0 1h1m0 1h1m-1 1h1m0 1h1m0 1h1m-1 1h1m0 1h1m0 1h1m0 1h1m0 1h1m0 1h1m0 1h1m0 1h1m0 1h1m0 1h1m0 1h1m0 1h1m0 1h1m0 1h1m-1 1h1m0 1h1m0 1h1m0 1h1m0 1h1m0 1h2m0 1h1m0 1h1m0 1h2m0 1h1m0 1h5m0 1h8m0 -1h8m0 -1h4m0 -1h2m0 -1h2m0 -1h1m0 -1h2m0 -1h13m0 -1h8m0 -1h5m0 -1h3m0 -1h2m0 -1h2m0 -1h2m0 -1h2m0 -1h1m0 -1h2m0 -1h5m0 -1h5m0 1h2m0 1h2m0 1h2m0 1h5m0 1h12m0 1h2m0 1h2m0 1h1m0 1h2m0 1h3m0 1h4m0 1h6m0 -1h24m0 1h4m0 -1h2m0 -1h2m0 -1h1m0 -1h2m0 -1h1m0 -1h1m0 -2h1m-1 1h1m0 -2h1m0 -1h1m0 -1h1m0 -2h1m-1 1h1m0 -2h1m0 -1h1m0 -1h1m0 -1h1m0 -1h1m0 -2h1m-1 1h1m0 -2h1m0 -1h1m0 -1h1m0 -1h1m0 -1h1m0 -1h1m0 -1h2m0 -1h1m0 -1h1m0 -1h1m0 -1h1m0 -1h1m0 -2h1m-1 1h1m0 -2h1m0 -1h1m0 -1h1m0 -2h1m-1 1h1m0 -2h1m0 -1h1m0 -1h1m0 -1h1m0 -1h2m0 -1h1m0 -1h1m0 -1h1m0 -1h1m0 -2h1m-1 1h1m0 -2h1m0 -1h1m0 -2h1m-1 1h1m0 -2h1m0 -1h1m0 -2h1m-1 1h1m0 -2h1m0 -1h1m0 -1h1m0 -1h1m0 -2h1m-1 1h1m0 -2h1m0 -1h1m0 -1h1m0 -1h1m0 -1h1m0 -1h1m0 -1h1m0 -1h1m0 -1h1m0 -1h1m0 -1h1m0 -1h1m0 -2h1m-1 1h1m0 -3h1m-1 1h1m0 -3h1m-1 1h1m0 -2h1m0 -2h1m-1 1h1m0 -3h1m-1 1h1m0 -3h1m-1 1h1m0 -2h1m0 -1h2m0 -1h1m0 -1h1m0 -1h2m0 -1h1m0 -1h5m0 -1h5m0 1h3m0 1h2m0 1h3m0 1h2m0 1h2m0 1h2m0 1h1m0 1h1m0 1h1m0 1h1m0 1h1m-1 1h1m0 1h1m0 1h1m0 1h1m0 1h1m-1 1h1m0 1h1m-1 1h1m0 1h1m-1 1h1m0 1h1m-1 1h1m1 4h1m-1 1h1m0 1h1m-1 1h1m0 1h1m-1 1h1m0 1h1m-1 1h1m0 1h1m-1 1h1m0 1h1m-1 1h1m0 1h1m0 1h1m-1 1h1m0 1h1m0 1h1m-1 1h1m0 1h1m-1 1h1m0 1h1m-1 1h1m0 1h1m-1 1h1m0 1h1m-1 1h1m1 4h1m-1 1h1m1 4h1m-1 1h1m0 1h1m-1 1h1m1 4h1m-1 1h1m2 7h1m-1 1h1m2 7h1m-1 1h1m8 25h1m-1 1h1m0 1h1m-1 1h1m0 1h1m-1 1h1m0 1h1m-1 1h1m0 1h1m-1 1h1m0 1h1m-1 1h1m0 1h1m-1 1h1m0 1h1m-1 1h1m0 1h1m0 1h1m-1 1h1m0 1h1m0 1h1m0 1h1m-1 1h1m0 1h1m0 1h1m0 1h1m-1 1h1m0 1h1m0 1h1m0 1h1m-1 1h1m0 1h1m0 1h1m0 1h1m0 1h1m-1 1h1m0 1h1m0 1h1m0 1h1m0 1h1m0 1h1m0 1h1m0 1h1m0 1h1m0 1h1m0 1h1m0 1h1m-1 1h1m0 1h1m0 1h1m-1 1h1m0 1h1m0 1h1m-1 1h1m0 1h1m0 1h1m-1 1h1m0 1h13m0 -1h5m0 1h3m0 1h2m0 1h4m0 1h4m0 1h6m0 1h5m0 1h3m0 1h2m0 1h3m0 1h2m0 1h2m0 1h2m0 1h3m0 1h4m0 1h3m0 1h3m0 1h2m0 1h3m0 -1h3m0 -1h2m0 -1h3m0 -1h3m0 -1h2m0 -1h6m0 1h6m0 -1h4m0 -1h10m0 1h1m0 1h1m0 1h1m0 1h1m0 1h1m0 1h1m0 1h1m0 1h2m0 1h2m0 1h2m0 1h2m0 1h1m0 1h1m0 1h1m0 1h2m0 1h1m0 1h1m0 1h1m0 1h1m0 1h2m0 1h2m0 1h1m0 1h2m0 1h1m0 1h2m0 1h2m0 1h1m0 1h2m0 1h1m0 1h2m0 1h2m0 1h1m0 1h2m0 1h2m0 1h3m0 1h2m0 1h3m0 1h3m0 1h2m0 1h2m0 1h2m0 1h2m0 1h1m0 1h2m0 1h2m0 1h2m0 1h2m0 1h2m0 1h1m0 -2h1m-1 1h1m0 -2h1m0 -1h1m0 -2h1m-1 1h1m0 -2h1m0 -1h1m0 -2h1m-1 1h1m0 -2h1m0 -1h1m0 -1h1m0 -1h2m0 -1h1m0 -1h1m0 -1h1m0 -1h1m0 -1h2m0 -1h1m0 -1h1m0 -1h2m0 -1h1m0 -1h2m0 -1h2m0 -1h2m0 -1h2m0 -1h1m0 -1h2m0 -1h1m0 -1h1m0 -1h2m0 -1h1m0 -1h1m0 -1h2m0 -1h1m0 -1h1m0 -1h2m0 -1h1m0 -1h1m0 -1h1m0 -1h1m0 -1h2m0 -1h1m0 -1h1m0 -1h1m0 -1h1m0 -1h2m0 -1h2m0 -1h1m0 -1h2m0 -1h1m0 -1h2m0 -1h2m0 -1h1m0 -1h2m0 -1h2m0 -1h2m0 -1h2m0 -1h2m0 -1h2m0 1h2m0 1h2m0 1h2m0 1h3m0 1h4m0 1h6m0 -1h6m0 1h4m0 1h2m0 1h2m0 1h1m0 1h1m0 1h2m0 1h1m0 1h1m0 1h2m0 1h1m0 1h1m0 1h2m0 1h1m0 1h1m0 1h1m0 1h1m0 1h1m0 1h1m0 1h1m0 1h1m0 1h1m0 1h1m0 1h1m0 1h1m0 1h1m0 1h1m-1 1h1m0 1h1m0 1h1m0 1h1m0 1h1m0 1h2m0 1h1m0 1h1m0 1h2m0 1h1m0 1h1m0 1h1m0 1h1m0 1h1m0 1h1m0 1h1m0 1h1m0 1h1m0 1h1m0 1h1m0 1h1m0 1h2m0 1h1m0 1h1m0 1h1m0 1h1m0 1h1m0 1h1m0 1h1m0 1h1m-1 1h1m0 1h1m0 1h1m0 1h1m0 1h1m0 1h1m0 1h1m-1 1h1m0 1h1m0 1h1m0 1h1m0 1h1m-1 1h1m0 1h1m0 1h3m0 1h4m0 1h14m0 1h5m0 -1h2m0 -1h2m0 -1h2m0 -1h2m0 -1h2m0 -1h2m0 -1h2m0 -1h1m0 -1h2m0 -1h2m0 -1h1m0 -1h2m0 -1h1m0 -1h2m0 -1h2m0 -1h1m0 -1h2m0 -1h1m0 -1h2m0 -1h2m0 -1h1m0 -1h2m0 -1h1m0 -1h2m0 -1h2m0 -1h1m0 -1h2m0 -1h1m0 -1h1m0 -1h1m0 -1h1m0 -1h1m0 -1h1m0 -1h1m0 -1h1m0 -1h2m0 -1h3m0 -1h2m0 -1h3m0 -1h3m0 -1h2m0 -1h6m0 -1h8m0 1h4m0 1h2m0 1h2m0 1h1m0 1h2m0 1h2m0 1h2m0 1h2m0 1h2m0 1h1m0 1h1m0 1h1m0 1h1m0 1h1m0 1h1m0 1h1m0 1h1m0 1h1m0 1h1m0 1h1m0 1h2m0 1h1m0 1h1m0 1h1m0 1h1m0 1h2m0 1h2m0 1h1m0 1h2m0 1h1m0 1h1m0 1h1m0 1h1m0 1h1m-1 1h1m0 1h1m0 1h1m0 1h1m0 1h1m0 1h2m0 1h2m0 1h1m0 1h2m0 1h1m0 1h1m0 1h1m0 1h2m0 1h1m0 1h1m0 1h1m0 1h3m0 1h4m0 1h12m0 -1h4m0 -1h6m0 -1h5m0 -1h2m0 -1h2m0 -1h2m0 -1h2m0 -1h3m0 -1h2m0 -1h3m0 -1h3m0 -1h2m0 -1h2m0 -1h2m0 -1h2m0 -1h1m0 -1h2m0 -1h1m0 -1h2m0 -1h2m0 -1h1m0 -1h2m0 -1h2m0 -1h3m0 -1h2m0 -1h14m0 1h6m0 1h4m0 1h3m0 1h3m0 1h2m0 1h6m0 1h4m0 1h1m0 1h1m0 1h2m0 1h1m0 1h1m0 1h1m0 1h1m0 1h1m0 1h1m0 1h2m0 1h1m0 1h1m0 1h1m0 1h1m0 1h1m0 1h1m0 1h1m0 1h1m0 1h1m0 1h1m0 1h1m0 1h2m0 1h2m0 1h2m0 1h2m0 1h2m0 1h3m0 1h2m0 1h3m0 -1h3m0 -1h2m0 -1h6m0 -1h5m0 -1h3m0 -1h2m0 -1h3m0 -1h3m0 -1h2m0 -1h4m0 -1h4m0 -1h2m0 -1h2m0 -1h1m0 -1h1m0 -1h2m0 -1h1m0 -1h1m0 -1h1m0 -1h1m0 -1h1m0 -1h1m0 -1h1m0 -1h1m0 -1h1m0 -1h1m0 -1h2m0 -1h1m0 -1h1m0 -1h2m0 -1h1m0 -1h2m0 -1h2m0 -1h2m0 -1h2m0 -1h3m0 -1h4m0 -1h4m0 -1h4m0 -1h6m0 -1h6m0 -1h4m0 -1h4m0 -1h4m0 -1h1M15.5 445v3m2 -8v3m2 -8v3m2 -8v3m2 -8v3m1 -6v3m2 -8v3m1 -6v3m2 -8v3m1 -6v3m1 -6v3m1 -6v3m1 -6v3m1 -6v3m1 -6v3m1 -6v3m1 -6v3m1 -6v3m1 -6v3m1 -6v3m1 -6v3m1 -6v3m1 -6v3m1 -6v3m1 -6v3m1 -6v3m1 -6v3m1 -6v3m1 -6v3m1 -6v3m1 -6v3m1 -6v3m1 -6v3m1 -6v3m2 -8v3m1 -6v3m1 -6v3m2 -8v3m1 -6v3m2 -8v3m2 -8v3m2 -8v3m2 -8v3m392 93v3m4 6v3m4 6v3m316 -29v3m15 26v3m2 2v3m3 4v3m2 2v3m1 0v3m2 2v3m1 0v3m2 2v3m1 0v3m1 0v3m1 0v3m1 0v3m1 0v3m1 0v3m1 0v3" stroke="#ffff00" />
<path d="M0 445.5h1m-1 1h1m5 -18h1m-1 1h1m1 -6h1m-1 1h1m1 -6h1m-1 1h1m1 -6h1m-1 1h1m40 -153h1m-1 1h1m0 -3h1m-1 1h1m0 -3h1m-1 1h1m0 -3h1m-1 1h1m0 -2h1m0 -2h1m-1 1h1m0 -3h1m-1 1h1m0 -3h1m-1 1h1m0 -2h3m0 -1h4m0 -1h4m0 -1h4m0 -1h10m0 1h2m0 1h1m0 1h1m0 1h2m0 1h1m0 1h1m0 1h2m0 1h2m0 1h1m0 1h2m0 1h5m0 1h6m0 -1h4m0 -1h6m0 -1h8m0 1h5m0 -1h3m0 -1h2m0 -1h2m0 -1h2m0 -1h1m0 -1h1m0 -1h2m0 -1h1m0 -2h1m-1 1h1m0 -3h1m-1 1h1m0 -3h1m-1 1h1m0 -3h1m-1 1h1m0 -3h1m-1 1h1m0 -3h1m-1 1h1m0 -3h1m-1 1h1m0 -3h1m-1 1h1m0 -2h1m0 -1h1m0 -2h1m-1 1h1m0 -2h1m0 -1h1m0 -1h1m0 -2h1m-1 1h1m0 -2h1m0 -1h1m0 -2h1m-1 1h1m0 -2h1m0 -1h1m0 -2h1m-1 1h1m0 -2h1m0 -1h1m0 -2h1m-1 1h1m0 -3h1m-1 1h1m0 -3h1m-1 1h1m1 -6h1m-1 1h1m1 -6h1m-1 1h1m1 -6h1m-1 1h1m1 -6h1m-1 1h1m0 -3h1m-1 1h1m0 -3h1m-1 1h1m0 -3h1m-1 1h1m0 -3h1m-1 1h1m0 -3h1m-1 1h1m0 -3h1m-1 1h1m0 -2h2m0 -1h3m0 -1h2m0 -1h10m0 1h1m0 1h1m-1 1h1m0 1h1m0 1h1m0 1h1m0 1h1m-1 1h1m0 1h1m0 1h1m-1 1h1m8 26h1m-1 1h1m0 1h1m-1 1h1m0 1h1m-1 1h1m0 1h1m-1 1h1m0 1h1m-1 1h1m0 1h1m-1 1h1m0 1h1m-1 1h1m0 1h1m-1 1h1m0 1h1m-1 1h1m0 1h1m-1 1h1m0 1h1m0 1h1m-1 1h1m0 1h1m0 1h1m-1 1h1m0 1h1m-1 1h1m0 1h1m0 1h2m0 1h2m0 1h1m0 1h2m0 1h5m0 1h8m0 1h5m0 1h2m0 1h2m0 1h2m0 1h1m0 1h1m-1 1h1m0 1h1m0 1h1m0 1h1m-1 1h1m0 1h1m0 1h1m0 1h1m-1 1h1m0 1h1m0 1h1m-1 1h1m0 1h1m-1 1h1m0 1h1m-1 1h1m0 1h1m0 1h1m-1 1h1m0 1h1m-1 1h1m0 1h1m-1 1h1m0 1h1m0 1h1m-1 1h1m0 1h1m0 1h1m-1 1h1m0 1h1m0 1h1m-1 1h1m0 1h1m0 1h1m-1 1h1m0 1h1m0 1h1m0 1h1m-1 1h1m0 1h1m0 1h1m0 1h1m0 1h1m-1 1h1m0 1h1m0 1h1m0 1h2m0 1h1m0 1h1m0 1h2m0 1h1m0 1h1m0 1h2m0 1h1m0 1h1m0 1h2m0 1h1m0 1h1m0 1h2m0 1h2m0 1h1m0 1h2m0 1h1m0 1h1m0 1h1m-1 1h1m0 1h1m0 1h1m0 1h1m0 1h1m-1 1h1m0 1h1m0 1h1m0 1h1m0 1h1m0 1h2m0 1h1m0 1h1m0 1h1m0 1h3m0 1h4m0 1h2m0 1h1m-1 1h1m0 1h1m0 1h1m0 1h1m-1 1h1m0 1h1m0 1h1m0 1h1m-1 1h1m0 1h1m0 1h1m-1 1h1m0 1h1m0 1h1m0 1h1m-1 1h1m0 1h1m0 1h1m0 1h1m-1 1h1m0 1h1m0 -1h2m0 -1h1m0 -1h1m0 -1h2m0 -1h1m0 -1h1m0 -2h1m-1 1h1m0 -3h1m-1 1h1m0 -2h1m0 -2h1m-1 1h1m0 -2h1m0 -2h1m-1 1h1m0 -3h1m-1 1h1m0 -2h1m0 -1h2m0 -1h1m0 -1h1m0 -1h2m0 -1h1m0 -1h1m0 -1h1m0 -2h1m-1 1h1m0 -2h1m0 -1h1m0 -1h1m0 -2h1m-1 1h1m0 -2h1m0 -1h1m0 -1h1m0 -1h1m0 -1h1m0 -2h1m-1 1h1m0 -2h1m0 -1h1m0 -1h1m0 -1h2m0 1h2m0 1h2m0 1h2m0 1h1m-1 1h1m9 28h1m-1 1h1m3 10h1m-1 1h1m21 81h1m-1 1h1m3 10h1m-1 1h1m0 1h1m0 1h1m-1 1h1m0 1h1m0 1h1m0 1h1m0 1h1m-1 1h1m0 1h1m0 1h1m0 1h1m0 1h1m-1 1h1m0 1h1m0 1h1m0 1h1m0 1h1m-1 1h1m0 1h1m0 1h2m0 -1h3m0 -1h2m0 -1h3m0 -1h2m0 -1h2m0 -1h2m0 -1h5m0 -1h5m0 1h2m0 1h2m0 1h2m0 1h2m0 1h3m0 1h2m0 1h4m0 1h4m0 1h6m0 1h5m0 -1h3m0 -1h2m0 -1h2m0 -1h1m0 -1h1m0 -1h2m0 -1h1m0 -1h1m0 -1h1m0 -1h1m0 -1h1m0 -1h1m0 -1h1m0 -1h1m0 -1h1m0 -1h1m0 -1h1m0 -1h2m0 -1h3m0 -1h2m0 -1h3m0 -1h3m0 -1h2m0 -1h3m0 -1h3m0 -1h2m0 -1h12m0 1h4m0 1h2m0 1h1m0 1h1m-1 1h1m0 1h1m0 1h1m0 1h1m0 1h1m-1 1h1m0 1h1m0 1h1m0 1h1m0 1h1m0 1h1m0 1h1m0 1h1m0 1h1m0 1h1m0 1h2m0 1h3m0 1h2m0 1h2m0 1h1m0 1h1m0 1h1m0 1h1m0 1h1m0 1h1m0 1h1m0 1h2m0 1h3m0 1h2m0 1h2m0 -2h1m-1 1h1m0 -2h1m0 -1h1m0 -2h1m-1 1h1m0 -2h1m0 -1h1m0 -2h1m-1 1h1m0 -2h1m0 -2h1m-1 1h1m0 -2h1m0 -1h1m0 -2h1m-1 1h1m0 -2h1m0 -1h1m0 -2h1m-1 1h1m0 -2h2m0 -1h3m0 -1h2m0 -1h2m0 -1h2m0 -1h1m0 -1h1m0 -1h2m0 -1h1m0 -1h1m0 -1h1m0 -1h1m0 -1h1m0 -1h1m0 -1h1m0 -1h1m0 -1h1m0 -1h1m0 -2h1m-1 1h1m0 -2h1m0 -1h1m0 -2h1m-1 1h1m0 -2h1m0 -1h1m0 -2h1m-1 1h1m0 -2h1m0 -2h1m-1 1h1m0 -2h1m0 -1h1m0 -2h1m-1 1h1m0 -2h1m0 -1h1m0 -2h1m-1 1h1m0 -2h1m0 -2h1m-1 1h1m0 -3h1m-1 1h1m0 -2h1m0 -2h1m-1 1h1m0 -2h1m0 -2h1m-1 1h1m0 -3h1m-1 1h1m0 -2h1m0 -1h1m0 -1h1m0 -1h1m0 -2h1m-1 1h1m0 -2h1m0 -1h1m0 -1h1m0 -1h1m0 -1h1m0 -1h1m0 -1h1m0 -1h1m0 -1h1m0 -1h1m0 -1h1m0 -1h1m0 -2h1m-1 1h1m0 -2h1m0 -1h1m0 -2h1m-1 1h1m0 -2h1m0 -1h1m0 -2h1m-1 1h1m0 -2h1m0 -1h1m0 -1h1m0 -1h1m0 -1h1m0 -1h1m0 -1h1m0 -1h1m0 -1h2m0 -1h2m0 -1h2m0 -1h2m0 -1h1m0 -2h1m-1 1h1m0 -3h1m-1 1h1m0 -3h1m-1 1h1m0 -2h1m0 -2h1m-1 1h1m0 -3h1m-1 1h1m0 -3h1m-1 1h1m0 -2h1m0 -1h1m0 -1h1m0 -1h2m0 -1h1m0 -1h1m0 -1h1m0 -1h1m0 1h1m-1 1h1m0 1h1m0 1h1m0 1h1m-1 1h1m0 1h1m0 1h1m0 1h1m-1 1h1m0 1h1m0 1h1m-1 1h1m0 1h1m-1 1h1m0 1h1m0 1h1m-1 1h1m0 1h1m0 1h1m-1 1h1m0 1h1m-1 1h1m0 1h1m0 1h1m-1 1h1m0 1h1m-1 1h1m0 1h1m0 1h1m-1 1h1m0 1h1m0 1h1m-1 1h1m0 1h1m-1 1h1m0 1h1m-1 1h1m39 144h1m-1 1h1m0 1h1m-1 1h1m0 1h1m-1 1h1m0 1h1m-1 1h1m0 1h1m0 1h1m-1 1h1m0 1h1m-1 1h1m0 1h1m-1 1h1m0 1h1m0 -1h1m0 -1h1m0 -1h1m0 -2h1m-1 1h1m0 -2h1m0 -1h1m0 -1h1m0 -1h1m0 -1h1m0 -1h1m0 -1h1m0 -1h1m0 -1h1m0 -1h1m0 -1h1m0 -1h1m0 -1h1m0 -1h1m0 -1h2m0 -1h1m0 -1h1m0 -1h1m0 -1h2m0 -1h2m0 -1h2m0 -1h2m0 -1h1m0 1h1m-1 1h1m0 1h1m0 1h1m0 1h1m-1 1h1m0 1h1m0 1h1m0 1h1m-1 1h1m0 1h1m0 1h1m0 1h1m0 1h1m0 1h1m0 1h1m0 1h1m0 1h1m0 1h1m0 1h1m0 1h1m0 1h1m0 1h1m0 1h1m0 1h1m0 1h1m0 1h1m0 1h1m-1 1h1m0 1h1m0 1h1m-1 1h1m0 1h1m0 1h1m-1 1h1m0 1h1m0 1h1m-1 1h1m0 1h1m0 1h1m0 1h1m0 1h1m0 1h1m0 1h1m0 1h1m0 1h1m0 1h1m0 -1h1m0 -1h1m0 -1h2m0 -1h1m0 -1h1m0 -1h1m0 -1h5m0 -1h5m0 -1h3m0 -1h2m0 -1h2m0 -1h1m0 -1h1m0 -1h1m0 -1h1m0 -1h1m0 -1h1m0 -1h1m0 -1h5m0 -1h8m0 -1h5m0 -1h3m0 -1h2m0 -1h2m0 1h2m0 1h1m0 1h1m0 1h2m0 1h1m0 1h2m0 1h3m0 1h2m0 1h6m0 1h4m0 1h1m-1 1h1m0 1h1m-1 1h1m0 1h1m-1 1h1m0 1h1m0 1h1m-1 1h1m0 1h1m-1 1h1m0 1h1m-1 1h1m0 1h1m0 1h1m-1 1h1m0 1h1m-1 1h1m0 1h1m0 1h1m-1 1h1m0 1h1m0 1h1m-1 1h1m0 1h1m-1 1h1m0 1h1m0 1h2m0 1h2m0 1h1m0 1h2m0 1h1m0 1h1m0 1h1m0 1h1m0 1h1m-1 1h1m0 1h1m0 1h1m0 1h1m0 1h1m0 1h1m0 1h1m0 1h1m0 1h1m-1 1h1m0 1h1m0 1h1m0 1h1m0 1h1m0 -1h2m0 -1h2m0 -1h1m0 -1h2m0 -1h2m0 -1h3m0 -1h2m0 -1h12m0 1h4m0 1h4m0 -1h4m0 -1h2m0 -2h1m-1 1h1m0 -3h1m-1 1h1m0 -3h1m-1 1h1m0 -3h1m-1 1h1m0 -3h1m-1 1h1m0 -3h1m-1 1h1m0 -3h1m-1 1h1m0 -2h1m0 -2h1m-1 1h1m0 -3h1m-1 1h1m0 -3h1m-1 1h1m0 -3h1m-1 1h1m0 -3h1m-1 1h1m0 -3h1m-1 1h1m0 -3h1m-1 1h1m0 -2h1m0 -2h1m-1 1h1m0 -3h1m-1 1h1m0 -3h1m-1 1h1m0 -2h1m0 -2h1m-1 1h1m0 -3h1m-1 1h1m0 -3h1m-1 1h1m0 -2h1m0 -2h1m-1 1h1m0 -2h1m0 -1h1m0 -2h1m-1 1h1m0 -2h1m0 -1h1m0 -2h1m-1 1h1m0 -2h1m0 -1h1m0 -1h1m0 -1h1m0 -1h1m0 -1h1m0 -1h1m0 -1h1m0 -1h2m0 1h3m0 1h2m0 1h4m0 -1h4m0 -1h4m0 1h4m0 1h3m0 1h2m0 1h2m0 1h2m0 1h1m0 1h2m0 1h2m0 1h1m0 1h2m0 1h2m0 1h2m0 1h2m0 1h2m0 1h1m0 1h1m0 1h1m0 1h2m0 1h1m0 1h1m0 1h1m0 1h1m0 -1h2m0 -1h1m0 -1h1m0 -1h2m0 -1h1m0 -1h2m0 1h3m0 1h2m0 1h2m0 1h1m0 1h1m0 1h2m0 1h1m0 1h1m0 1h1m0 1h1m0 1h2m0 1h1m0 1h1m0 1h2m0 1h1m0 1h1m0 1h1m0 1h1m-1 1h1m0 1h1m0 1h1m0 1h1m0 1h1m-1 1h1m0 1h1m0 1h1m-1 1h1m0 1h1m-1 1h1m1 4h1m-1 1h1m1 4h1m-1 1h1m1 4h1m-1 1h1m1 4h1m-1 1h1m0 1h1m-1 1h1m0 1h1m-1 1h1m0 1h1m-1 1h1m0 1h1m-1 1h1m0 1h1m-1 1h1m0 1h1m-1 1h1m0 1h1m-1 1h1m0 1h1m0 1h1m0 1h1m0 1h1m-1 1h1m0 1h1m0 1h1m0 1h1m0 1h1m0 1h2m0 1h2m0 1h1m0 1h2m0 1h2m0 1h3m0 1h2m0 1h6m0 -1h4m0 -1h1m0 -1h1m0 -1h1m0 -1h1m0 -1h1m0 -1h1m0 -1h1m0 -1h1m0 -1h1m0 -1h1m0 -1h1m0 -1h1m0 -1h1m0 -1h1m0 -1h1m0 -1h1m0 -1h2m0 -1h2m0 -1h1m0 -1h2m0 -1h1m0 -1h1m0 -1h1m0 -1h1m0 -2h1m-1 1h1m0 -2h1m0 -1h1m0 -1h1m0 -1h1m0 -1h1m0 -2h1m-1 1h1m0 -2h1m0 -1h1m0 -1h1m0 -2h1m-1 1h1m0 -2h1m0 -1h2m0 -1h2m0 -1h2m0 -1h2m0 -1h2m0 -1h3m0 -1h2m0 -1h6m0 -1h12m0 -1h1m0 -1h1m0 -1h1m0 -1h1m0 -1h1m0 -1h1m0 -1h1m0 -1h3m0 -1h4m0 -1h6m0 -1h8m0 -1h4m0 1h1m0 1h1m0 1h2m0 1h1m0 1h1m0 1h1m0 1h1m0 1h1m-1 1h1m0 1h1m-1 1h1m0 1h1m-1 1h1m0 1h1m0 1h1m-1 1h1m0 1h1m-1 1h1m0 1h1m-1 1h1m0 1h1m0 1h1m-1 1h1m0 1h1m-1 1h1m0 1h1m0 1h1m-1 1h1m0 1h1m0 1h1m-1 1h1m0 1h1m-1 1h1m0 1h1m0 1h1m-1 1h1m0 1h1m-1 1h1m0 1h1m0 1h1m-1 1h1m0 1h1m0 1h1m-1 1h1m0 1h1m-1 1h1m0 1h1m0 1h1m-1 1h1m0 1h1m0 1h1m-1 1h1m0 1h1m0 1h1m-1 1h1m0 1h1m0 1h1m-1 1h1m0 1h1m0 1h2m0 1h1m0 1h1m0 1h2m0 1h1m0 1h5m0 1h13m0 -1h3m0 -1h2m0 -1h3m0 -1h2m0 -1h2m0 -1h2m0 -1h1m0 -1h1m0 -1h1m0 -1h2m0 -1h1m0 -1h1m0 -1h1m0 -1h2m0 -1h2m0 -1h2m0 -1h2m0 -1h2m0 -1h3m0 -1h2m0 -1h3m0 -1h2m0 -1h2m0 -1h2m0 -1h3m0 -1h4m0 -1h10m0 -1h2m0 -1h1m0 -1h1m0 -1h2m0 -1h1m0 -1h1m0 -1h2m0 -1h2m0 -1h1m0 -1h2m0 -1h1m0 -1h2m0 -1h1m0 -1h1m0 -1h2m0 -1h1m0 -1h2m0 1h2m0 1h2m0 1h2m0 1h2m0 1h2m0 1h2m0 1h2m0 1h1m0 1h1m0 1h1m0 1h2m0 1h1m0 1h1m0 1h1m0 1h1m0 1h1m-1 1h1m0 1h1m0 1h1m-1 1h1m0 1h1m0 1h1m-1 1h1m0 1h1m0 1h1m-1 1h1m0 1h1m0 1h1m-1 1h1m0 1h1m0 1h1m-1 1h1m0 1h1m0 1h1m-1 1h1m0 1h1m0 1h1m-1 1h1m0 1h1m0 1h1m0 1h1m0 1h2m0 1h1m0 1h1m0 1h1m0 1h1m0 1h1m-1 1h1m0 1h1m0 1h1m0 1h1m-1 1h1m0 1h1m0 1h1m0 1h1m-1 1h1m0 1h1m0 1h2m0 1h1m0 1h1m0 1h2m0 1h1m0 1h2m0 -1h3m0 -1h2m0 -1h3m0 -1h2m0 -1h2m0 -1h2m0 -1h1m0 -2h1m-1 1h1m0 -3h1m-1 1h1m0 -3h1m-1 1h1m0 -2h1m0 -2h1m-1 1h1m0 -3h1m-1 1h1m0 -3h1m-1 1h1m0 -2h1m0 -2h1m-1 1h1m0 -3h1m-1 1h1m0 -2h1m0 -2h1m-1 1h1m0 -2h1m0 -2h1m-1 1h1m0 -3h1m-1 1h1m0 -2h1m0 -2h1m-1 1h1m0 -3h1m-1 1h1m0 -2h1m0 -2h1m-1 1h1m0 -2h1m0 -2h1m-1 1h1m0 -3h1m-1 1h1m0 -2h3m0 -1h4m0 -1h14m0 -1h16m0 -1h4m0 -1h2m0 -1h2m0 -1h1m0 -1h2m0 -1h2m0 -1h3m0 -1h2m0 -1h3m0 -1h3m0 -1h2m0 -1h3m0 -1h3m0 -1h2m0 -1h6m0 1h5m0 -1h2m0 -1h2m0 -1h2M1.5 442v3m1 -6v3m1 -6v3m1 -6v3m1 -6v3m2 -8v3m2 -8v3m2 -8v3m2 -8v3m1 -7v4m1 -8v4m1 -7v3m1 -7v4m1 -7v3m1 -7v4m1 -8v4m1 -7v3m1 -7v4m1 -8v4m1 -8v4m1 -8v4m1 -8v4m1 -8v4m1 -8v4m1 -8v4m1 -8v4m1 -8v4m1 -8v4m1 -8v4m1 -8v4m1 -8v4m1 -8v4m1 -8v4m1 -8v4m1 -8v4m1 -8v4m1 -8v4m1 -8v4m1 -8v4m1 -8v4m1 -7v3m1 -6v3m1 -7v4m1 -7v3m1 -6v3m1 -6v3m1 -7v4m1 -7v3m123 -65v3m2 -8v3m2 -8v3m2 -8v3m33 -9v3m1 0v3m1 0v3m1 0v4m1 0v3m1 0v3m1 0v3m1 0v3m193 106v3m1 0v3m1 0v3m1 0v3m1 0v3m1 0v3m1 0v3m1 0v3m1 0v3m2 2v3m1 0v3m1 0v3m2 2v3m1 0v4m1 0v4m1 0v4m1 0v5m1 0v4m1 0v5m1 0v4m1 0v4m1 0v4m1 0v4m1 0v4m1 0v4m1 0v3m1 0v4m1 0v4m1 0v4m1 0v3m1 0v3m1 0v3m1 0v3m2 2v3m1 0v3m1 0v3m322 -66v4m1 0v4m1 0v3m1 0v4m1 0v3m1 0v4m1 0v4m1 0v4m1 0v4m1 0v4m1 0v4m1 0v4m1 0v4m1 0v4m1 0v4m1 0v3m1 0v4m1 0v3m1 0v4m1 0v3m1 0v4m1 0v3m1 0v4m1 0v3m1 0v4m1 0v4m1 0v4m1 0v3m1 0v4m1 0v4m1 0v4m1 0v3m1 0v4m1 0v3m1 0v3m1 0v4m1 0v3m1 0v3m1 0v4m379 46v3m2 2v3m2 2v3m2 2v3" stroke="#ffffff" />
</g>
<g shape-rendering="crispEdges" fill="none" stroke-width="1">
<path d="M0 727.5h2m0 -1h2m0 -1h3m0 -1h3m0 -1h2m0 -1h3m0 -1h3m0 -1h2m0 -1h6m0 -1h8m0 -1h16m0 1h5m0 1h3m0 1h2m0 1h3m0 1h3m0 1h2m0 1h4m0 1h4m0 1h3m0 1h3m0 1h2m0 1h3m0 1h2m0 1h2m0 1h2m0 1h1m0 1h1m-1 1h1m0 1h1m-1 1h1m0 1h1m0 1h1m-1 1h1m0 1h1m0 1h1m-1 1h1m0 1h1m-1 1h1m0 1h1m0 1h2m0 1h2m0 1h1m0 1h2m0 1h5m0 1h5m0 1h3m0 1h2m0 1h3m0 -1h2m0 -1h2m0 -1h2m0 -1h1m0 -1h1m0 -1h1m0 -1h2m0 -1h1m0 -1h1m0 -1h1m0 -1h1m0 -1h1m0 -1h1m0 -1h1m0 -1h1m0 -1h1m0 -1h1m0 -1h1m0 -1h1m0 -1h2m0 -1h2m0 -1h1m0 -1h2m0 -1h3m0 1h4m0 1h2m0 1h2m0 1h2m0 1h1m0 1h2m0 1h1m0 -1h2m0 -1h1m0 -1h1m0 -1h2m0 -1h1m0 -1h5m0 -1h12m0 1h1m0 1h1m0 1h2m0 1h1m0 1h1m0 1h1m0 1h1m0 1h1m-1 1h1m0 1h1m0 1h1m0 1h1m-1 1h1m0 1h1m0 1h1m0 1h1m-1 1h1m0 1h1m0 1h1m0 1h1m0 1h1m0 1h1m0 1h1m0 1h1m0 1h1m0 1h2m0 1h3m0 1h2m0 1h4m0 -1h4m0 -1h6m0 -1h5m0 1h2m0 1h2m0 1h2m0 1h2m0 1h2m0 1h2m0 1h2m0 1h3m0 1h4m0 1h4m0 1h4m0 1h4m0 1h4m0 1h3m0 1h3m0 1h2m0 1h6m0 1h8m0 -1h30m0 -1h4m0 -1h2m0 -2h1m-1 1h1m0 -3h1m-1 1h1m0 -2h1m0 -2h1m-1 1h1m0 -2h1m0 -2h1m-1 1h1m0 -3h1m-1 1h1m0 -2h2m0 1h3m0 1h2m0 1h6m0 1h4m0 -1h1m0 -1h1m0 -1h1m0 -1h1m0 -1h1m0 -1h1m0 -1h1m0 -1h1m0 -2h1m-1 1h1m0 -3h1m-1 1h1m0 -2h1m0 -2h1m-1 1h1m0 -2h1m0 -2h1m-1 1h1m0 -3h1m-1 1h1m0 -2h2m0 -1h3m0 -1h2m0 -1h3m0 -1h3m0 -1h2m0 -1h2m0 1h2m0 1h2m0 1h1m0 1h2m0 1h1m0 1h1m0 1h1m-1 1h1m0 1h1m0 1h1m0 1h1m0 1h1m-1 1h1m0 1h1m0 1h1m0 1h1m0 1h1m0 1h1m0 1h1m0 1h1m0 1h1m0 1h1m0 1h1m0 1h2m0 1h1m0 1h1m0 1h2m0 1h1m0 1h1m0 1h2m0 1h2m0 1h1m0 1h2m0 1h2m0 1h3m0 1h2m0 1h4m0 1h4m0 1h22m0 -1h5m0 -1h3m0 -1h2m0 -1h12m0 1h4m0 1h11m0 -1h2m0 -1h2m0 -1h2m0 -1h1m0 -1h1m0 -1h1m0 -1h1m0 -2h1m-1 1h1m0 -2h1m0 -1h1m0 -1h1m0 -1h1m0 -1h1m0 -1h1m0 -1h2m0 -1h1m0 -1h1m0 -1h1m0 -1h1m0 -1h1m0 -2h1m-1 1h1m0 -2h1m0 -1h1m0 -1h1m0 -2h1m-1 1h1m0 -2h1m0 -1h3m0 1h4m0 1h3m0 1h3m0 1h2m0 1h4m0 -1h4m0 -1h4m0 -1h4m0 -1h4m0 -1h4m0 -1h2m0 1h1m0 1h1m0 1h2m0 1h1m0 1h1m0 1h1m0 1h1m0 1h1m0 1h1m0 1h1m0 1h1m0 1h1m0 1h1m0 1h1m0 1h3m0 1h4m0 1h2m0 -1h2m0 -1h1m0 -1h1m0 -1h2m0 -1h1m0 -1h17m0 -1h2m0 -1h1m0 -1h1m0 -1h2m0 -1h1m0 -1h1m0 -1h1m0 -1h1m0 -1h1m0 -2h1m-1 1h1m0 -2h1m0 -1h1m0 -1h1m0 -1h1m0 -1h2m0 -1h2m0 -1h1m0 -1h2m0 -1h2m0 -1h2m0 -1h2m0 -1h2m0 -1h2m0 -1h2m0 -1h2m0 -1h2m0 -1h3m0 -1h4m0 -1h3m0 -1h3m0 -1h2m0 -1h6m0 -1h14m0 1h4m0 1h4m0 -1h4m0 -1h4m0 1h4m0 1h4m0 1h4m0 1h3m0 -1h3m0 -1h2m0 -1h2m0 1h1m0 1h1m0 1h1m0 1h1m-1 1h1m0 1h1m0 1h1m0 1h1m0 1h1m0 1h1m-1 1h1m0 1h1m-1 1h1m0 1h1m-1 1h1m0 1h1m-1 1h1m0 1h1m-1 1h1m0 1h1m-1 1h1m0 1h1m-1 1h1m0 1h1m0 1h1m0 1h1m0 1h1m0 1h1m0 1h1m0 1h1m0 1h1m0 1h1m0 1h1m0 1h1m0 1h2m0 1h1m0 1h1m0 1h1m0 1h1m0 1h1m0 1h1m0 1h2m0 1h1m0 1h1m0 1h1m0 1h2m0 1h2m0 1h2m0 1h2m0 1h3m0 1h4m0 1h6m0 1h14m0 -1h4m0 -1h2m0 -1h2m0 -1h2m0 -1h1m0 -1h2m0 -1h2m0 -1h2m0 -1h2m0 -1h2m0 -1h2m0 -1h2m0 -1h2m0 -1h2m0 -1h1m0 -1h2m0 -1h2m0 -1h1m0 -1h2m0 -1h1m0 1h1m0 1h1m0 1h1m0 1h1m0 1h1m0 1h1m0 1h1m0 1h3m0 -1h4m0 -1h3m0 -1h2m0 -1h2m0 -1h2m0 -1h1m0 1h2m0 1h2m0 1h1m0 1h2m0 1h2m0 -1h3m0 -1h2m0 -1h3m0 -1h2m0 -1h2m0 -1h2m0 -1h5m0 -1h4m0 -1h2m0 -1h2m0 -1h1m0 -1h2m0 -1h1m0 -1h2m0 -1h2m0 -1h1m0 -1h2m0 -1h5m0 1h5m0 -1h3m0 -1h2m0 -1h6m0 -1h4m0 1h1m0 1h1m0 1h1m0 1h1m-1 1h1m0 1h1m0 1h1m0 1h1m0 1h3m0 1h4m0 1h4m0 1h4m0 1h2m0 1h1m0 1h1m0 1h1m0 1h1m-1 1h1m0 1h1m0 1h1m0 1h1m0 1h5m0 -1h8m0 1h8m0 -1h16m0 -1h6m0 -1h4m0 -1h6m0 1h8m0 -1h4m0 -1h1m0 -1h1m0 -1h1m0 -1h1m0 -1h1m0 -1h1m0 -1h1m0 -1h1m0 -2h1m-1 1h1m0 -2h1m0 -2h1m-1 1h1m0 -2h1m0 -2h1m-1 1h1m0 -2h1m0 -2h1m-1 1h1m0 -2h2m0 -1h3m0 -1h2m0 -1h6m0 1h8m0 1h6m0 -1h4m0 -1h6m0 -1h6m0 -1h4m0 -1h2m0 1h2m0 1h1m0 1h1m0 1h2m0 1h1m0 1h1m0 1h1m0 1h1m0 1h2m0 1h1m0 1h1m0 1h1m0 1h1m0 1h2m0 1h1m0 1h1m0 1h2m0 1h1m0 1h2m0 1h3m0 1h2m0 1h3m0 1h3m0 1h2m0 1h2m0 -1h2m0 -1h2m0 -1h1m0 -1h2m0 -1h1m0 1h1m0 1h1m0 1h1m0 1h1m0 1h1m0 1h1m0 1h1m0 1h2m0 1h3m0 1h2m0 1h3m0 1h2m0 1h2m0 1h2m0 1h2m0 1h2m0 1h2m0 1h2m0 1h3m0 1h4m0 1h6m0 -1h8m0 -1h8m0 -1h6m0 -1h4m0 -1h6m0 -1h4m0 -1h1m0 -1h1m0 -1h1m0 -2h1m-1 1h1m0 -2h1m0 -1h1m0 -1h1m0 -1h1m0 -1h1m0 -2h1m-1 1h1m0 -2h1m0 -1h1m0 -1h1m0 -2h1m-1 1h1m0 -2h1m0 -1h1m0 -1h1m0 -1h1m0 -1h1m0 -2h1m-1 1h1m0 -2h1m0 -1h1m0 -1h1m0 -1h1m0 -1h1m0 -1h1m0 -1h2m0 -1h1m0 -1h1m0 -1h1m0 -1h2m0 -1h3m0 -1h2m0 -1h6m0 -1h6m0 -1h4m0 -1h3m0 1h3m0 1h2m0 1h14m0 -1h4m0 1h1m0 1h1m-1 1h1m0 1h1m0 1h1m0 1h1m0 1h1m-1 1h1m0 1h1m0 1h1m0 1h2m0 1h1m0 1h1m0 1h2m0 1h1m0 1h1m0 1h1m0 1h1m0 1h1m0 1h1m-1 1h1m0 1h1m0 1h1m0 1h1m0 1h2m0 1h2m0 1h2m0 1h2m0 1h1m0 1h2m0 1h2m0 1h1m0 1h2m0 1h2m0 1h3m0 1h2m0 1h3m0 1h2m0 1h2m0 1h2m0 1h3m0 1h4m0 1h4m0 1h4m0 1h11m0 -1h3m0 -1h2m0 -1h3m0 -1h2m0 -1h2m0 -1h2m0 -1h1m0 -1h1m0 -1h1m0 -1h1m0 -1h1m0 -1h1m0 -1h1m0 -1h1m0 -1h1m0 -2h1m-1 1h1m0 -3h1m-1 1h1m0 -3h1m-1 1h1m0 -2h1m0 -2h1m-1 1h1m0 -3h1m-1 1h1m0 -3h1m-1 1h1m0 -2h3m0 -1h4m0 -1h2m0 -1h1m0 -1h1m0 -1h2m0 -1h1m0 -1h1m0 -1h1m0 -1h2m0 -1h3m0 -1h2m0 -1h3m0 -1h3m0 -1h2m0 -1h4m0 1h4m0 1h4m0 -1h4m0 -1h6m0 -1h8m0 1h4m0 1h1m-1 1h1m0 1h1m-1 1h1m0 1h1m-1 1h1m0 1h1m-1 1h1m0 1h1m-1 1h1m0 1h1m-1 1h1m0 1h1m-1 1h1m0 1h1m0 1h1m0 1h1m0 1h2m0 1h1m0 1h1m0 1h1m0 1h1m0 1h1m0 1h1m0 1h1m0 1h1m-1 1h1m0 1h1m0 1h1m0 1h1m0 1h1m0 1h2m0 1h2m0 1h1m0 1h2m0 1h3m0 1h4m0 1h3m0 1h3m0 1h2m0 1h4m0 1h4m0 1h6m0 1h4m0 -1h1m0 -1h1m0 -1h1m0 -1h1m0 -1h1m0 -1h1m0 -1h1m0 -1h1m0 -1h1m0 -2h1m-1 1h1m0 -2h1m0 -1h1m0 -1h1m0 -2h1m-1 1h1m0 -2h1m0 -1h1m0 -1h1m0 -1h1m0 -1h1m0 -2h1m-1 1h1m0 -2h1m0 -1h1m0 -1h1m0 -1h2m0 -1h2m0 -1h2m0 -1h2m0 -1h2m0 -1h3m0 -1h2m0 -1h6m0 -1h13m0 -1h3m0 -1h2m0 -1h6m0 1h4m0 -1h2m0 -1h2m0 -1h1m0 -1h2m0 -1h2m0 -1h3m0 -1h2m0 -1h6m0 -1h5m0 -1h3m0 -1h2m0 -1h11m0 1h3m0 1h2m0 1h6m0 -1h3" stroke="#ffff80" />
<path d="M0 740.5h1m0 -1h2m0 -1h2m0 -1h1m0 -1h2m0 -1h2m0 -1h1m0 -1h2m0 -1h2m0 -1h2m0 -1h2m0 -1h2m0 -1h2m0 -1h3m0 -1h2m0 -1h3m0 -1h3m0 -1h2m0 -1h4m0 -1h4m0 -1h6m0 -1h8m0 1h8m0 1h6m0 1h4m0 1h4m0 1h4m0 1h3m0 1h3m0 1h2m0 1h2m0 1h2m0 1h1m0 1h1m0 1h2m0 1h1m0 1h1m0 1h2m0 1h1m0 1h1m0 1h2m0 1h1m0 1h2m0 1h2m0 1h2m0 1h2m0 1h2m0 1h2m0 1h2m0 1h2m0 1h5m0 1h6m0 -1h4m0 -1h3m0 -1h3m0 -1h2m0 -1h3m0 -1h2m0 -1h2m0 -1h2m0 -1h2m0 -1h3m0 -1h2m0 -1h12m0 -1h4m0 -1h6m0 -1h8m0 -1h6m0 1h4m0 1h2m0 1h2m0 1h2m0 1h1m0 1h2m0 1h1m0 1h2m0 1h2m0 1h1m0 1h2m0 1h1m0 1h2m0 1h2m0 1h1m0 1h2m0 1h2m0 1h3m0 1h2m0 1h6m0 1h5m0 1h3m0 1h2m0 1h3m0 1h3m0 1h2m0 1h4m0 1h4m0 1h4m0 1h4m0 1h3m0 1h3m0 1h2m0 1h4m0 1h4m0 1h4m0 1h4m0 1h6m0 1h8m0 1h29m0 -1h2m0 -1h2m0 -1h2m0 -1h2m0 -1h3m0 -1h2m0 -1h6m0 -1h5m0 -1h3m0 -1h2m0 -1h2m0 -1h1m0 -1h1m0 -1h2m0 -1h1m0 -1h1m0 -1h1m0 -1h1m0 -1h2m0 -1h1m0 -1h1m0 -1h2m0 -1h1m0 -1h2m0 -1h2m0 -1h2m0 -1h2m0 -1h5m0 -1h6m0 1h4m0 1h2m0 1h2m0 1h2m0 1h1m0 1h2m0 1h2m0 1h2m0 1h2m0 1h2m0 1h1m0 1h2m0 1h2m0 1h1m0 1h2m0 1h2m0 1h2m0 1h2m0 1h2m0 1h2m0 1h2m0 1h2m0 1h2m0 1h2m0 1h3m0 1h2m0 1h6m0 1h8m0 1h8m0 -1h8m0 -1h8m0 1h16m0 -1h5m0 -1h3m0 -1h2m0 -1h2m0 -1h2m0 -1h2m0 -1h1m0 -1h2m0 -1h1m0 -1h1m0 -1h1m0 -1h2m0 -1h1m0 -1h1m0 -1h1m0 -1h2m0 -1h2m0 -1h2m0 -1h2m0 -1h5m0 -1h6m0 -1h4m0 -1h4m0 -1h4m0 -1h4m0 -1h4m0 -1h6m0 1h5m0 1h2m0 1h2m0 1h2m0 1h2m0 1h3m0 1h2m0 1h28m0 -1h4m0 -1h3m0 -1h2m0 -1h2m0 -1h2m0 -1h2m0 -1h2m0 -1h2m0 -1h2m0 -1h1m0 -1h2m0 -1h2m0 -1h1m0 -1h2m0 -1h2m0 -1h2m0 -1h2m0 -1h2m0 -1h2m0 -1h3m0 -1h2m0 -1h3m0 -1h2m0 -1h2m0 -1h2m0 -1h2m0 -1h3m0 -1h2m0 -1h4m0 -1h4m0 -1h14m0 -1h16m0 1h8m0 -1h5m0 1h3m0 1h2m0 1h2m0 1h2m0 1h1m0 1h1m0 1h2m0 1h1m0 1h1m0 1h1m0 1h1m0 1h1m0 1h1m0 1h1m0 1h1m0 1h1m0 1h1m0 1h1m0 1h1m0 1h2m0 1h1m0 1h1m0 1h1m0 1h1m0 1h1m0 1h1m0 1h2m0 1h1m0 1h1m0 1h1m0 1h1m0 1h2m0 1h1m0 1h1m0 1h2m0 1h1m0 1h1m0 1h2m0 1h2m0 1h1m0 1h2m0 1h2m0 1h2m0 1h2m0 1h2m0 1h3m0 1h4m0 1h14m0 -1h6m0 -1h4m0 -1h4m0 -1h4m0 -1h3m0 -1h2m0 -1h2m0 -1h2m0 -1h19m0 -1h4m0 -1h6m0 1h8m0 -1h6m0 -1h4m0 -1h6m0 -1h5m0 -1h3m0 -1h2m0 -1h3m0 -1h3m0 -1h2m0 -1h4m0 -1h4m0 -1h3m0 -1h3m0 -1h2m0 -1h6m0 -1h8m0 1h6m0 1h4m0 1h4m0 1h4m0 1h2m0 1h2m0 1h2m0 1h1m0 1h2m0 1h3m0 1h4m0 1h4m0 1h4m0 1h6m0 1h8m0 1h16m0 -1h21m0 -1h3m0 -1h2m0 -1h2m0 -1h2m0 -1h1m0 -1h1m0 -1h2m0 -1h1m0 -1h1m0 -1h2m0 -1h2m0 -1h1m0 -1h2m0 -1h2m0 -1h3m0 -1h2m0 -1h4m0 -1h4m0 -1h4m0 -1h4m0 -1h6m0 -1h6m0 -1h4m0 -1h6m0 1h5m0 1h3m0 1h2m0 1h3m0 1h2m0 1h2m0 1h2m0 1h2m0 1h2m0 1h2m0 1h2m0 1h2m0 1h3m0 1h2m0 1h11m0 1h2m0 1h2m0 1h2m0 1h2m0 1h3m0 1h2m0 1h3m0 1h3m0 1h2m0 1h3m0 1h3m0 1h2m0 1h3m0 1h3m0 1h2m0 1h4m0 1h4m0 1h6m0 1h8m0 1h8m0 -1h13m0 -1h2m0 -1h2m0 -1h2m0 -1h1m0 -1h2m0 -1h2m0 -1h1m0 -1h2m0 -1h1m0 -1h1m0 -1h1m0 -1h2m0 -1h1m0 -1h1m0 -1h1m0 -1h1m0 -1h1m0 -1h1m0 -1h2m0 -1h1m0 -1h1m0 -1h1m0 -1h1m0 -1h2m0 -1h2m0 -1h1m0 -1h2m0 -1h2m0 -1h2m0 -1h2m0 -1h2m0 -1h2m0 -1h2m0 -1h2m0 -1h2m0 -1h3m0 -1h4m0 -1h14m0 -1h5m0 1h3m0 1h2m0 1h3m0 1h3m0 1h2m0 1h2m0 1h2m0 1h1m0 1h1m0 1h2m0 1h1m0 1h1m0 1h2m0 1h1m0 1h1m0 1h2m0 1h1m0 1h2m0 1h2m0 1h2m0 1h2m0 1h2m0 1h2m0 1h2m0 1h2m0 1h2m0 1h2m0 1h2m0 1h2m0 1h2m0 1h2m0 1h2m0 1h2m0 1h2m0 1h3m0 1h2m0 1h4m0 1h4m0 1h14m0 -1h5m0 -1h3m0 -1h2m0 -1h2m0 -1h1m0 -1h1m0 -1h2m0 -1h1m0 -1h1m0 -1h1m0 -1h1m0 -1h2m0 -1h2m0 -1h1m0 -1h2m0 -1h1m0 -1h2m0 -1h1m0 -1h1m0 -1h2m0 -1h1m0 -1h1m0 -1h2m0 -1h2m0 -1h1m0 -1h2m0 -1h2m0 -1h2m0 -1h2m0 -1h2m0 -1h3m0 -1h4m0 -1h3m0 -1h3m0 -1h2m0 -1h6m0 -1h8m0 -1h5m0 1h2m0 1h2m0 1h2m0 1h1m0 1h2m0 1h1m0 1h1m0 1h2m0 1h1m0 1h1m0 1h2m0 1h1m0 1h1m0 1h2m0 1h1m0 1h1m0 1h1m0 1h1m0 1h2m0 1h1m0 1h1m0 1h1m0 1h2m0 1h2m0 1h2m0 1h2m0 1h2m0 1h2m0 1h2m0 1h2m0 1h2m0 1h3m0 1h2m0 1h3m0 1h3m0 1h2m0 1h6m0 -1h5m0 -1h2m0 -1h2m0 -1h2m0 -1h1m0 -1h2m0 -1h2m0 -1h1m0 -1h2m0 -1h1m0 -1h2m0 -1h2m0 -1h1m0 -1h2m0 -1h1m0 -1h2m0 -1h2m0 -1h1m0 -1h2m0 -1h2m0 -1h3m0 -1h2m0 -1h3m0 -1h3m0 -1h2m0 -1h4m0 -1h4m0 -1h6m0 -1h5m0 -1h3m0 -1h2m0 -1h3m0 -1h3m0 -1h2m0 -1h4m0 -1h4m0 -1h4m0 -1h4m0 -1h4m0 -1h4m0 -1h17" stroke="#40f0f0" />
<path d="M0 714.5h54m0 1h1m0 1h1m0 1h1m0 1h1m0 1h1m0 1h1m0 1h1m0 1h1m0 1h2m0 1h1m0 1h1m0 1h2m0 1h1m0 1h1m0 1h2m0 1h2m0 1h1m0 1h2m0 1h1m0 1h2m0 1h2m0 1h1m0 1h2m0 1h2m0 1h2m0 1h2m0 1h2m0 1h1m-1 1h1m7 27h1m-1 1h2m0 1h2m0 1h2m0 1h2m0 1h1m0 -1h2m0 -1h2m0 -1h1m0 -1h2m0 -1h9m-1 -1h1m0 -2h1m-1 1h1m0 -3h1m-1 1h1m0 -3h1m-1 1h1m0 -3h1m-1 1h1m0 -3h1m-1 1h1m0 -3h1m-1 1h1m0 -3h1m-1 1h1m0 -3h1m-1 1h1m0 -3h1m-1 1h1m0 -3h1m-1 1h1m0 -3h1m-1 1h1m1 -6h1m-1 1h1m0 -3h1m-1 1h1m0 -3h1m-1 1h1m1 -6h1m-1 1h1m0 -3h1m-1 1h1m0 -3h1m-1 1h1m0 -3h1m-1 1h1m0 -3h1m-1 1h1m0 -3h1m-1 1h1m0 -3h1m-1 1h1m0 -2h1m0 -1h2m0 -1h2m0 -1h1m0 -1h2m0 -1h1m0 1h1m-1 1h1m0 1h1m0 1h1m0 1h1m-1 1h1m0 1h1m0 1h1m0 1h1m-1 1h1m0 1h1m0 1h1m-1 1h1m0 1h1m0 1h1m-1 1h1m0 1h1m0 1h1m-1 1h1m0 1h1m0 1h1m-1 1h2m-1 1h1m0 -3h1m-1 1h1m0 -3h1m-1 1h1m0 -3h1m-1 1h1m0 -3h1m-1 1h1m0 -3h1m-1 1h1m0 -3h1m-1 1h1m0 -3h1m-1 1h1m0 -3h1m-1 1h3m0 1h1m0 1h1m0 1h2m0 1h1m0 1h9m-1 1h1m0 1h1m-1 1h1m0 1h1m-1 1h1m0 1h1m-1 1h1m0 1h1m-1 1h1m0 1h1m-1 1h1m0 1h1m-1 1h1m0 1h1m-1 1h1m8 27h1m-1 1h1m0 1h1m-1 1h1m0 1h1m0 1h1m0 1h1m-1 1h1m0 1h1m0 1h1m0 1h1m-1 1h1m0 1h3m0 -1h4m0 -1h2m0 -1h1m0 -1h1m0 -1h1m0 -1h1m0 -1h1m0 -1h1m0 -1h1m0 -1h1m0 -1h1m0 -1h1m0 -1h1m0 -1h1m0 -1h1m0 -1h1m0 -1h1m0 -1h1m0 1h2m0 1h1m0 1h1m0 1h2m0 1h1m0 1h1m0 1h2m0 1h1m0 1h1m0 1h2m0 1h1m0 1h2m0 1h2m0 1h2m0 1h2m0 1h2m0 -1h2m0 -1h2m0 -1h2m0 -1h2m0 1h2m0 1h2m0 1h2m0 1h2m0 1h3m0 1h2m0 1h6m0 1h5m0 -1h3m0 -1h2m0 -1h3m0 -1h2m0 -1h2m0 -1h2m0 -1h13m0 -1h5m0 -1h3m0 -1h2m0 -1h1m8 -32h1m-1 1h2m-1 1h1m0 1h1m-1 1h1m0 1h1m-1 1h1m0 1h1m0 1h1m-1 1h1m0 1h1m-1 1h1m0 1h1m-1 1h1m0 1h1m0 1h2m0 1h2m0 1h1m0 1h3m-1 1h1m0 -3h1m-1 1h1m0 -3h1m-1 1h1m0 -3h1m-1 1h1m0 -3h1m-1 1h1m0 -3h1m-1 1h1m0 -3h1m-1 1h1m0 -3h1m-1 1h1m0 -3h1m-1 1h1m7 -24h3m-3 1h1m2 -2h4m0 -1h6m0 1h4m0 1h1m-1 1h1m0 1h1m-1 1h1m0 1h1m-1 1h1m0 1h1m-1 1h1m0 1h1m-1 1h1m0 1h1m-1 1h1m0 1h1m-1 1h1m0 1h1m-1 1h1m1 4h1m-1 1h1m3 10h1m-1 1h1m2 7h1m-1 1h1m0 1h1m-1 1h1m0 1h1m-1 1h1m0 1h1m-1 1h1m0 1h1m-1 1h1m0 1h1m-1 1h1m0 1h1m-1 1h1m0 1h1m0 1h1m0 1h1m-1 1h1m0 1h1m0 1h1m0 1h1m0 1h1m-1 1h1m0 1h1m0 1h3m0 1h4m0 1h30m0 -1h5m0 -1h2m0 -1h2m0 -1h2m0 -1h1m0 -1h1m0 -2h1m-1 1h1m0 -2h1m0 -1h1m0 -1h1m0 -2h1m-1 1h1m0 -2h1m0 -1h5m0 1h4m0 1h2m0 1h2m0 1h1m0 1h2m0 1h5m0 1h4m0 -2h1m-1 1h1m0 -2h1m0 -2h1m-1 1h1m0 -2h1m0 -2h1m-1 1h1m0 -2h1m0 -2h1m-1 1h1m0 -3h1m-1 1h1m0 -3h1m-1 1h1m1 -6h1m-1 1h1m1 -6h1m-1 1h1m1 -6h1m-1 1h1m0 -3h1m-1 1h1m0 -3h1m-1 1h1m0 -2h1m0 -1h1m0 -2h1m-1 1h1m0 -2h1m0 -1h1m0 -2h1m-1 1h1m0 -2h1m0 -2h1m-1 1h1m0 -3h1m-1 1h1m0 -3h1m-1 1h1m0 -3h1m-1 1h1m0 -3h1m-1 1h1m0 -3h1m-1 1h1m0 -3h1m-1 1h1m0 -2h1m0 1h1m-1 1h1m0 1h1m-1 1h1m0 1h1m-1 1h1m0 1h1m0 1h1m-1 1h1m0 1h1m-1 1h1m0 1h1m-1 1h1m0 1h1m0 1h1m-1 1h1m0 1h1m0 1h1m0 1h1m-1 1h1m0 1h1m0 1h1m0 1h1m-1 1h1m0 1h3m0 -1h4m0 -1h3m0 -1h2m0 -1h2m0 -1h2m0 -1h2m0 -1h3m0 -1h2m0 -1h2m-1 1h1m0 1h1m-1 1h1m2 7h1m-1 1h1m2 7h1m-1 1h1m1 4h1m-1 1h1m0 1h1m-1 1h1m0 1h1m-1 1h1m0 1h1m-1 1h1m0 1h1m-1 1h1m0 1h1m-1 1h1m0 1h1m-1 1h1m0 1h1m-1 1h5m0 -1h4m-1 -1h1m0 -2h1m-1 1h1m0 -3h1m-1 1h1m0 -3h1m-1 1h1m0 -3h1m-1 1h1m0 -3h1m-1 1h1m0 -3h1m-1 1h1m0 -3h1m-1 1h1m0 -3h17m-17 1h1m16 -3h1m-1 1h1m0 -3h1m-1 1h1m0 -3h1m-1 1h1m0 -2h1m0 -2h1m-1 1h1m0 -3h1m-1 1h1m0 -3h1m-1 1h1m0 -3h1m-1 1h1m0 -3h1m-1 1h1m0 -3h1m-1 1h1m1 -6h1m-1 1h1m1 -6h1m-1 1h1m0 -3h1m-1 1h1m0 -3h2m-2 1h1m1 -2h2m0 -1h2m0 -1h2m0 -1h3m0 -1h4m0 -1h42m0 1h2m0 1h2m0 1h1m0 1h2m0 1h2m0 -1h3m0 -1h2m0 -1h2m0 1h2m0 1h2m0 1h1m0 1h2m0 1h1m0 1h2m0 1h2m0 1h1m0 1h2m0 1h1m0 -1h1m0 -1h1m0 -1h1m0 -2h1m-1 1h1m0 -2h1m0 -1h1m0 -1h2m-1 -1h1m15 54h1m-1 1h1m0 1h1m0 1h1m-1 1h1m0 1h1m0 1h1m0 1h1m0 1h1m-1 1h1m0 1h1m0 1h5m0 1h38m0 -1h4m0 -1h2m0 -1h1m0 -1h1m0 -1h2m0 -1h1m0 -1h1m0 -1h1m0 -1h1m0 -2h1m-1 1h1m0 -2h1m0 -1h1m0 -2h1m-1 1h1m0 -2h1m0 -1h1m0 -2h1m-1 1h1m0 -2h1m0 -1h1m0 -1h1m0 -1h1m0 -1h1m0 -1h1m0 -1h1m0 -1h1m0 -1h1m0 -1h2m0 -1h1m0 -1h1m0 -1h2m0 -1h1m0 -1h1m0 -2h1m-1 1h1m0 -2h1m0 -1h1m0 -2h1m-1 1h1m0 -2h1m0 -1h1m0 -2h2m-2 1h1m0 -2h1m7 23h3m-3 1h1m2 -2h2m0 -1h1m0 -1h2m0 -1h1m0 -1h1m0 -1h1m0 -1h1m0 -1h1m0 -1h1m0 -1h1m0 -1h1m0 -1h1m0 1h1m-1 1h1m0 1h1m-1 1h1m0 1h1m-1 1h1m0 1h1m0 1h1m-1 1h1m0 1h1m-1 1h1m0 1h1m-1 1h1m0 1h1m0 -1h1m0 -1h1m0 -1h1m0 -1h1m0 -1h1m0 -1h1m0 -1h1m0 -1h1m0 -2h1m-1 1h1m0 -2h1m0 -1h1m0 -2h1m-1 1h1m0 -2h1m0 -1h1m0 -2h1m-1 1h1m0 -2h3m0 1h4m0 1h2m0 -2h1m-1 1h1m0 -2h1m0 -1h1m0 -2h1m-1 1h1m0 -2h1m0 -1h1m0 -2h1m-1 1h1m0 -2h1m0 -1h1m0 -1h1m0 -1h1m0 -2h1m-1 1h1m0 -2h1m0 -1h1m0 -1h1m0 -1h1m0 1h1m0 1h1m-1 1h1m0 1h1m0 1h1m0 1h1m0 1h1m-1 1h1m0 1h1m0 1h1m0 -1h2m0 -1h2m0 -1h1m0 -1h2m0 -1h5m0 1h4m-1 1h1m1 4h1m-1 1h1m3 10h1m-1 1h1m1 4h1m-1 1h2m0 1h3m0 1h2m0 1h3m0 1h3m0 1h2m0 1h2m-1 1h1m0 1h1m-1 1h1m0 1h1m-1 1h1m0 1h1m-1 1h1m0 1h1m-1 1h1m0 1h1m-1 1h1m0 1h1m-1 1h1m0 1h1m-1 1h1m0 1h3m-3 1h1m2 -2h1m0 -1h1m0 -1h2m0 -1h1m0 -1h3m0 -1h4m0 -1h3m0 -1h2m0 -1h2m0 -1h2m0 -1h5m0 1h4m0 -1h2m0 -1h1m0 -1h1m0 -1h2m0 -1h1m0 -1h1m0 -1h1m0 -1h1m0 -1h2m0 -1h1m0 -1h1m0 -1h1m0 -1h1m0 1h2m0 1h2m0 1h1m0 1h2m0 1h5m0 -1h4m-1 -1h1m1 -5h1m-1 1h1m3 -12h1m-1 1h1m2 -9h1m-1 1h1m2 -9h1m-1 1h1m2 -9h1m-1 1h1m0 -3h9m-9 1h1m8 0h1m0 1h1m0 1h1m0 1h1m0 1h1m0 1h1m0 1h1m0 1h1m0 1h1m0 1h1m0 1h2m0 1h1m0 1h1m0 1h1m0 1h3m0 -1h4m0 -1h6m0 -1h8m0 -1h4m-1 1h1m0 1h1m-1 1h1m0 1h1m-1 1h1m0 1h1m-1 1h1m1 4h1m-1 1h1m0 1h1m-1 1h1m0 1h1m-1 1h1m0 1h1m-1 1h1m0 1h1m-1 1h1m0 1h1m0 1h1m-1 1h1m0 1h1m0 1h1m-1 1h1m0 1h1m0 1h1m-1 1h1m0 1h1m0 1h1m0 1h1m-1 1h1m0 1h1m0 1h1m0 1h1m0 1h1m-1 1h1m0 1h1m0 1h2m0 1h2m0 1h2m0 1h2m0 1h9m-1 -1h1m0 -2h1m-1 1h1m0 -3h1m-1 1h1m1 -6h1m-1 1h1m1 -6h1m-1 1h1m0 -3h1m-1 1h1m0 -3h1m-1 1h1m0 1h1m-1 1h1m2 7h1m-1 1h1m2 7h1m-1 1h1m0 1h1m-1 1h2m0 1h3m0 1h2m0 1h3m0 1h3m0 1h2m0 1h2m0 1h2m0 1h1m0 1h1m0 1h2m0 1h1m0 1h10m0 -1h3m0 -1h2m0 -1h2m0 -1h2m0 -1h1m0 -1h1m0 -1h2m0 -1h1m0 -1h2m0 -1h2m0 -1h2m0 -1h2m0 -1h2m0 -1h3m0 -1h2m0 -1h4m0 -1h4m0 -1h2m-1 -1h1m8 -26h1m-1 1h1m0 -3h1m-1 1h1m0 -3h1m-1 1h1m1 -6h1m-1 1h1m0 -3h1m-1 1h1m0 -3h1m-1 1h1m0 -3h1m-1 1h1m0 -2h1m0 -1h1m0 -1h1m0 -2h1m-1 1h1m0 -2h1m0 -1h1m0 -1h1m0 -1h33m0 1h1m0 1h1m0 1h1m0 1h1m-1 1h1m0 1h1m0 1h1m0 1h1m0 1h2m0 1h3m0 1h2m0 1h4m0 -1h4m0 -1h2m-1 1h1m7 23h1m-1 1h1m0 1h1m0 1h1m0 1h2m0 1h1m0 1h1m0 1h1m0 1h1m-1 1h1m0 1h1m-1 1h1m0 1h1m-1 1h1m0 1h1m-1 1h1m1 4h1m-1 1h1m0 1h1m-1 1h1m0 1h1m-1 1h1m0 1h1m-1 1h2m0 1h2m0 1h2m0 1h2m0 1h2m0 1h2m0 1h2m0 1h2m0 1h13m0 1h16m0 -1h5m0 -1h3m0 -1h2m0 -1h2m0 -1h1m0 -1h1m0 -1h1m0 -1h1m0 -1h1m0 -1h1m0 -1h1m0 -1h1m0 -1h1m0 -2h1m-1 1h1m0 -2h1m0 -1h1m0 -1h1m0 -2h1m-1 1h1m0 -2h1m0 -1h1m0 -2h1m-1 1h1m0 -3h1m-1 1h1m0 -3h1m-1 1h1m0 -2h1m0 -2h1m-1 1h1m0 -3h1m-1 1h1m0 -3h1m-1 1h1m9 -35h1m0 1h2m0 1h2m0 1h2m0 1h2m0 -1h2m0 -1h2m0 -1h2m0 -1h17m0 1h1m0 1h1m0 1h2m0 1h1m0 1h1m0 1h1m0 1h2m0 -1h3m0 -1h2m0 -1h4m0 1h4m0 1h2m0 1h1m0 1h1m0 1h1m0 1h1m0 1h1m0 1h1m0 1h1m8 32h1m-1 1h1m0 1h1m-1 1h1m0 1h1m0 1h1m0 1h1m-1 1h1m0 1h1m0 1h1m0 1h1m-1 1h1m0 1h1m0 1h1m-1 1h1m0 1h1m0 1h1m-1 1h1m0 1h1m0 1h1m-1 1h1m0 1h1m0 1h1m-1 1h1m0 1h41m-1 -1h1m0 -2h1m-1 1h1m2 -9h1m-1 1h1m2 -9h1m-1 1h1m4 -15h1m-1 1h1m3 -12h1m-1 1h1m0 -3h1m-1 1h1m0 -3h1m-1 1h1m0 -3h1m-1 1h1m0 -3h1m-1 1h1m0 -3h1m-1 1h1m0 -3h1m-1 1h1m0 -3h1m-1 1h1m0 -2h2m0 -1h3m0 -1h2m0 -1h12m0 1h4m0 1h2m0 1h2m0 1h2m0 1h1m0 1h2m0 1h2m0 -1h2m0 -1h2m0 -1h2m0 -1h1m0 1h1m0 1h1m0 1h2m0 1h1m0 1h1m0 1h1m0 1h1m0 -2h1m-1 1h1m0 -2h1m0 -2h1m-1 1h1m0 -2h1m0 -2h1m-1 1h1m0 -2h1m0 -2h1m-1 1h1m0 -2h2m0 -1h2m0 -1h2m0 -1h2m0 -1h3m0 1h4m0 1h3m0 -1h3m0 -1h2m0 -1h4m0 1h4m0 1h2m0 1h1m-1 1h1m0 1h1m0 1h1m0 1h1m-1 1h1m0 1h1m0 1h1m0 1h1m-1 1h1m0 1h2m0 -1h2m0 -1h2m0 -1h2M94.5 744v4m1 0v4m1 0v3m1 0v4m1 0v3m1 0v4m1 0v4m37 -26v3m4 -12v3m64 5v3m1 0v3m1 0v4m1 0v3m1 0v3m1 0v3m1 0v4m1 0v3m129 1v3m1 -7v4m1 -8v4m1 -8v4m1 -8v4m1 -8v4m1 -8v4m1 -8v4m26 -7v3m1 -6v3m1 -6v3m1 -6v3m1 -6v3m1 -6v3m1 -6v3m26 11v3m2 2v3m1 0v3m1 0v3m2 2v3m1 0v3m106 0v3m2 -8v3m2 -8v3m60 -13v3m1 0v3m2 2v3m1 0v3m2 2v3m51 -25v3m2 -8v3m100 -10v3m1 0v3m1 0v3m1 0v3m1 0v3m1 0v3m1 0v3m1 0v3m1 0v4m1 0v4m1 0v4m1 0v4m1 0v4m1 0v4m1 0v4m98 -31v3m1 0v3m1 0v3m1 0v3m1 0v3m1 0v3m1 0v3m90 -27v3m2 2v3m1 0v3m1 0v3m2 2v3m90 0v3m2 -8v3m1 -6v3m1 -6v3m2 -8v3m1 -6v3m2 -8v3m1 -6v3m2 -8v3m1 -6v3m54 12v3m39 25v3m2 -8v3m5 -5v3m1 0v3m2 2v3m1 0v3m75 -7v3m1 -6v3m1 -6v3m1 -6v3m1 -6v3m1 -6v3m1 -6v3m1 -6v3m4 -12v3m69 -8v3m1 0v3m1 0v3m1 0v4m1 0v3m1 0v3m1 0v3m13 16v3m84 -22v3m1 -7v4m1 -8v4m1 -8v4m1 -8v4m1 -8v4m1 -8v4m1 -8v4m1 -7v3m64 11v3m1 0v4m1 0v4m1 0v4m1 0v4m1 0v4m1 0v4m1 0v4m59 18v3m1 -6v3m2 -8v3m1 -6v3m2 -8v3m1 -6v3m1 -6v3m1 -6v3m2 -8v3m1 -6v3m1 -6v3" stroke="#ff80ff" />
<path d="M5.5 850V870M13.5 841V870M21.5 831V870M29.5 816V870M37.5 810V870M45.5 810V870M53.5 808V870M61.5 814V870M69.5 824V870M77.5 834V870M85.5 845V870M93.5 853V870M101.5 864V870M541.5 863V870M549.5 862V870M557.5 861V870M565.5 859V870M573.5 857V870M581.5 856V870M589.5 859V870M597.5 869V870M613.5 869V870M637.5 867V870M645.5 862V870M653.5 861V870M661.5 861V870M669.5 858V870M677.5 853V870M685.5 849V870M693.5 846V870M701.5 846V870M709.5 849V870M717.5 844V870M725.5 845V870M733.5 849V870M741.5 843V870M749.5 851V870M757.5 865V870M941.5 868V870M949.5 866V870M957.5 869V870M1061.5 859V870M1069.5 853V870M1077.5 852V870M1085.5 852V870M1093.5 852V870M1101.5 852V870M1109.5 852V870M1117.5 859V870M1125.5 865V870M1133.5 869V870M1277.5 868V870M1285.5 867V870M1293.5 864V870M1301.5 866V870M1309.5 866V870M1317.5 861V870M1325.5 863V870M1333.5 864V870M1341.5 869V870M1477.5 868V870M1485.5 866V870M1493.5 864V870M1597.5 868V870M1605.5 868V870M1613.5 869V870M1621.5 867V870M1629.5 868V870M1637.5 868V870M1645.5 867V870M1653.5 867V870M1661.5 868V870M1669.5 869V870" stroke="#ff3232"/>
<path d="M9 868.5h1m-1 1h1m0 -3h1m-1 1h1m0 -2h1m0 -2h1m-1 1h1m0 -2h1m0 -2h1m-1 1h1m0 -2h1m0 -2h1m-1 1h1m0 -2h1m0 -2h1m-1 1h1m0 -2h1m0 -2h1m-1 1h1m0 -2h1m0 -2h1m-1 1h1m0 -3h1m-1 1h1m0 -2h1m0 -2h1m-1 1h1m0 -2h1m0 -2h1m-1 1h1m0 -3h1m-1 1h1m0 -2h1m0 -2h1m-1 1h1m0 -2h1m0 -1h1m0 -2h1m-1 1h1m0 -2h1m0 -1h1m0 -2h1m-1 1h1m0 -2h1m0 -1h1m0 -2h1m-1 1h1m0 -2h1m0 -1h1m0 -1h1m0 -2h1m-1 1h1m0 -2h1m0 -1h1m0 -1h1m0 -1h1m0 -1h1m0 -1h1m0 -1h1m0 -1h1m0 -1h1m0 -1h1m0 -1h2m0 -1h2m0 -1h2m0 -1h2m0 -1h3m0 -1h30m0 1h2m0 1h2m0 1h2m0 1h3m0 1h4m0 1h4m0 1h4m0 1h3m0 1h3m0 1h2m0 1h3m0 1h3m0 1h2m0 1h4m0 1h4m0 1h11m0 -1h3m0 -1h2m0 -1h4m0 -1h4m0 -1h4m0 1h4m0 1h2m0 -1h2m0 -1h1m0 -1h1m0 -1h2m0 -1h1m0 -1h5m0 -1h8m0 -1h4m0 1h2m0 1h2m0 1h1m0 1h2m0 1h1m0 1h1m0 1h1m-1 1h1m0 1h1m0 1h1m0 1h1m0 1h1m-1 1h1m0 1h1m0 1h1m0 1h1m0 1h1m-1 1h1m0 1h1m0 1h1m0 1h1m0 1h1m-1 1h1m0 1h1m0 1h1m0 1h2m0 1h1m0 1h1m0 1h2m0 1h1m0 1h2m0 1h3m0 1h2m0 1h3m0 1h2m0 1h2m0 1h2m0 1h1m0 1h2m0 1h1m0 1h1m0 1h2m0 1h1m0 1h1m0 1h2m0 1h1m0 1h1m0 1h2m0 1h1m0 1h1m0 1h2m0 1h2m0 1h1m0 1h2m0 1h1m0 1h2m0 1h2m0 1h1m0 1h2m0 1h1m0 1h1m0 1h1" stroke="#ffffff" />
<path d="M699 869.5h2m0 -1h3m0 -1h4m0 -1h2m0 -1h1m0 -1h1m0 -1h2m0 -1h1m0 -1h1m0 -1h1m0 -1h2m0 -1h2m0 -1h2m0 -1h2m0 -1h3m0 -1h4m0 -1h2m0 -1h1m0 -1h1m0 -1h2m0 -1h1m0 -1h1m0 -1h1m0 -1h5m0 1h4m0 1h2m0 1h2m0 1h1m0 1h2m0 1h1m0 1h2m0 1h1m0 1h1m0 1h2m0 1h1m0 1h1m0 1h1m0 1h1m0 1h2m0 1h1m0 1h1m0 1h1m0 1h1m0 1h1m0 1h2m0 1h1m0 1h1" stroke="#ffffff" />
<path d="M1683 869.5h2" stroke="#ffffff" />
<path d="M31 869.5h1m0 -1h1m0 -2h1m-1 1h1m0 -2h1m0 -1h1m0 -1h1m0 -1h1m0 -1h1m0 -2h1m-1 1h1m0 -2h1m0 -1h1m0 -1h1m0 -2h1m-1 1h1m0 -2h1m0 -1h1m0 -1h1m0 -2h1m-1 1h1m0 -2h1m0 -1h1m0 -1h1m0 -2h1m-1 1h1m0 -2h1m0 -1h1m0 -1h1m0 -1h1m0 -1h1m0 -1h1m0 -1h1m0 -1h1m0 -1h1m0 -1h1m0 -1h1m0 -1h1m0 -1h2m0 -1h1m0 -1h1m0 -1h1m0 -1h1m0 -1h2m0 -1h2m0 -1h1m0 -1h2m0 -1h2m0 -1h3m0 -1h2m0 -1h3m0 -1h3m0 -1h2m0 -1h4m0 -1h4m0 -1h6m0 -1h8m0 -1h16m0 1h8m0 1h8m0 1h16m0 -1h8m0 1h6m0 -1h4m0 -1h6m0 -1h8m0 -1h14m0 1h4m0 1h3m0 1h2m0 1h2m0 1h2m0 1h1m0 1h2m0 1h2m0 1h1m0 1h2m0 1h1m0 1h2m0 1h2m0 1h1m0 1h2m0 1h1m0 1h2m0 1h2m0 1h1m0 1h2m0 1h1m0 1h2m0 1h2m0 1h1m0 1h2m0 1h1m0 1h2m0 1h2m0 1h1m0 1h2m0 1h1m0 1h2m0 1h2m0 1h1m0 1h2m0 1h1m0 1h2m0 1h2m0 1h1m0 1h2m0 1h1m0 1h2m0 1h2m0 1h1m0 1h2m0 1h1m0 1h2m0 1h2m0 1h1m0 1h2m0 1h2m0 1h2m0 1h2m0 1h2m0 1h2m0 1h2m0 1h2m0 1h2" stroke="#ffff00" />
<path d="M733 869.5h2m0 -1h2m0 -1h2m0 -1h2m0 -1h2m0 -1h2m0 -1h2m0 -1h2m0 -1h3m0 -1h4m0 -1h19m0 1h3m0 1h2m0 1h2m0 1h2m0 1h1m0 1h1m0 1h2m0 1h1m0 1h1m0 1h2" stroke="#ffff00" />
</g>
<g font-family="Liberation Sans, sans-serif">
<text x="425.5" y="24" font-size="14" fill="#ff3232" text-anchor="end" font-weight="bold">1.3140</text>
<text x="742" y="24" font-size="14" fill="#ff3232" text-anchor="end" font-weight="bold">1.3142</text>
<text x="1058" y="24" font-size="14" fill="#ff3232" text-anchor="end" font-weight="bold">+0.14%</text>
<text x="1373" y="24" font-size="14" fill="#ffffff" text-anchor="end" font-weight="bold">1.3121</text>
<text x="1689.5" y="24" font-size="14" fill="#ff3232" text-anchor="end" font-weight="bold">1.3146</text>
<text x="425.5" y="60" font-size="14" fill="#ff3232" text-anchor="end" font-weight="bold">+0.0019</text>
<text x="742" y="60" font-size="14" fill="#ff3232" text-anchor="end" font-weight="bold">1.3140</text>
<text x="1058" y="60" font-size="14" fill="#00e4ff" text-anchor="end" font-weight="bold">0.38%</text>
<text x="1373" y="60" font-size="14" fill="#ff3232" text-anchor="end" font-weight="bold">1.3122</text>
<text x="1689.5" y="60" font-size="14" fill="#00e600" text-anchor="end" font-weight="bold">1.3096</text>
<g font-size="16" fill="#c0c0c0" style="font-family:'Liberation Sans','Noto Sans CJK SC',sans-serif">
<text x="112" y="25.5" style="font-family:'Liberation Sans','Noto Sans CJK SC',sans-serif">现价</text>
<text x="429" y="25.5" style="font-family:'Liberation Sans','Noto Sans CJK SC',sans-serif">卖出</text>
<text x="744" y="25.5" style="font-family:'Liberation Sans','Noto Sans CJK SC',sans-serif">涨幅</text>
<text x="1061" y="25.5" style="font-family:'Liberation Sans','Noto Sans CJK SC',sans-serif">昨收</text>
<text x="1376" y="25.5" style="font-family:'Liberation Sans','Noto Sans CJK SC',sans-serif">最高</text>
<text x="112" y="61.5" style="font-family:'Liberation Sans','Noto Sans CJK SC',sans-serif">涨跌</text>
<text x="429" y="61.5" style="font-family:'Liberation Sans','Noto Sans CJK SC',sans-serif">买入</text>
<text x="744" y="61.5" style="font-family:'Liberation Sans','Noto Sans CJK SC',sans-serif">振幅</text>
<text x="1061" y="61.5" style="font-family:'Liberation Sans','Noto Sans CJK SC',sans-serif">开盘</text>
<text x="1376" y="61.5" style="font-family:'Liberation Sans','Noto Sans CJK SC',sans-serif">最低</text>
</g>
<text x="-0.4" y="84" font-size="12" xml:space="preserve"><tspan fill="#ffff00">A10: 1.3388 </tspan><tspan fill="#ff80ff">MA30: 1.3307 </tspan><tspan fill="#00e600">MA60: 1.3271 </tspan><tspan fill="#00dcfa">MA120: 1.3269 </tspan><tspan fill="#ffffb4">MA250: 1.3224 </tspan><tspan fill="#4c7682">MA500: 1.3352</tspan></text>
<text x="-0.5" y="710" font-size="12" xml:space="preserve" fill="#40f0f0">: +50.45</text>
<text x="48.3" y="710" font-size="12" xml:space="preserve" fill="#ff80ff">J: +62.94</text>
<text x="0.1" y="797.5" font-size="12" xml:space="preserve"><tspan fill="#ffffff">0.00 </tspan><tspan fill="#ffff00">DEA: +0.00 </tspan><tspan fill="#00e600">MACD: -0.00</tspan></text>
<path d="M183 118.5h11" stroke="#c8c8c8" fill="none" stroke-width="1" shape-rendering="crispEdges"/><path d="M181.5 118.5l4 -2.6v5.2z" fill="#c8c8c8"/>
<text x="196" y="123" font-size="12" fill="#c0c0c0" text-anchor="start">1.3497</text>
<path d="M1552 665.5h11" stroke="#c8c8c8" fill="none" stroke-width="1" shape-rendering="crispEdges"/><path d="M1550.5 665.5l4 -2.6v5.2z" fill="#c8c8c8"/>
<text x="1564.3" y="669.5" font-size="12" fill="#c0c0c0" text-anchor="start">1.3053</text>
</g>
<text x="405.5" y="139.5" font-size="19" font-weight="bold" fill="#ff0000" style="font-family:'Liberation Serif','Noto Serif CJK SC',serif">欧元1小时</text>
<rect x="1637.5" y="698.5" width="51" height="14" rx="2" fill="#000" stroke="#420042" stroke-width="1"/>
<text x="1638.5" y="710.5" font-size="12" fill="#ffff00" style="font-family:'Liberation Sans','Noto Sans CJK SC',sans-serif">指标说明</text>
<rect x="1637.5" y="787.5" width="51" height="14" rx="2" fill="#000" stroke="#420042" stroke-width="1"/>
<text x="1638.5" y="799.5" font-size="12" fill="#ffff00" style="font-family:'Liberation Sans','Noto Sans CJK SC',sans-serif">指标说明</text>
<rect x="1692" y="0" width="2" height="870" fill="#fff"/>
</svg>
</body></html>
